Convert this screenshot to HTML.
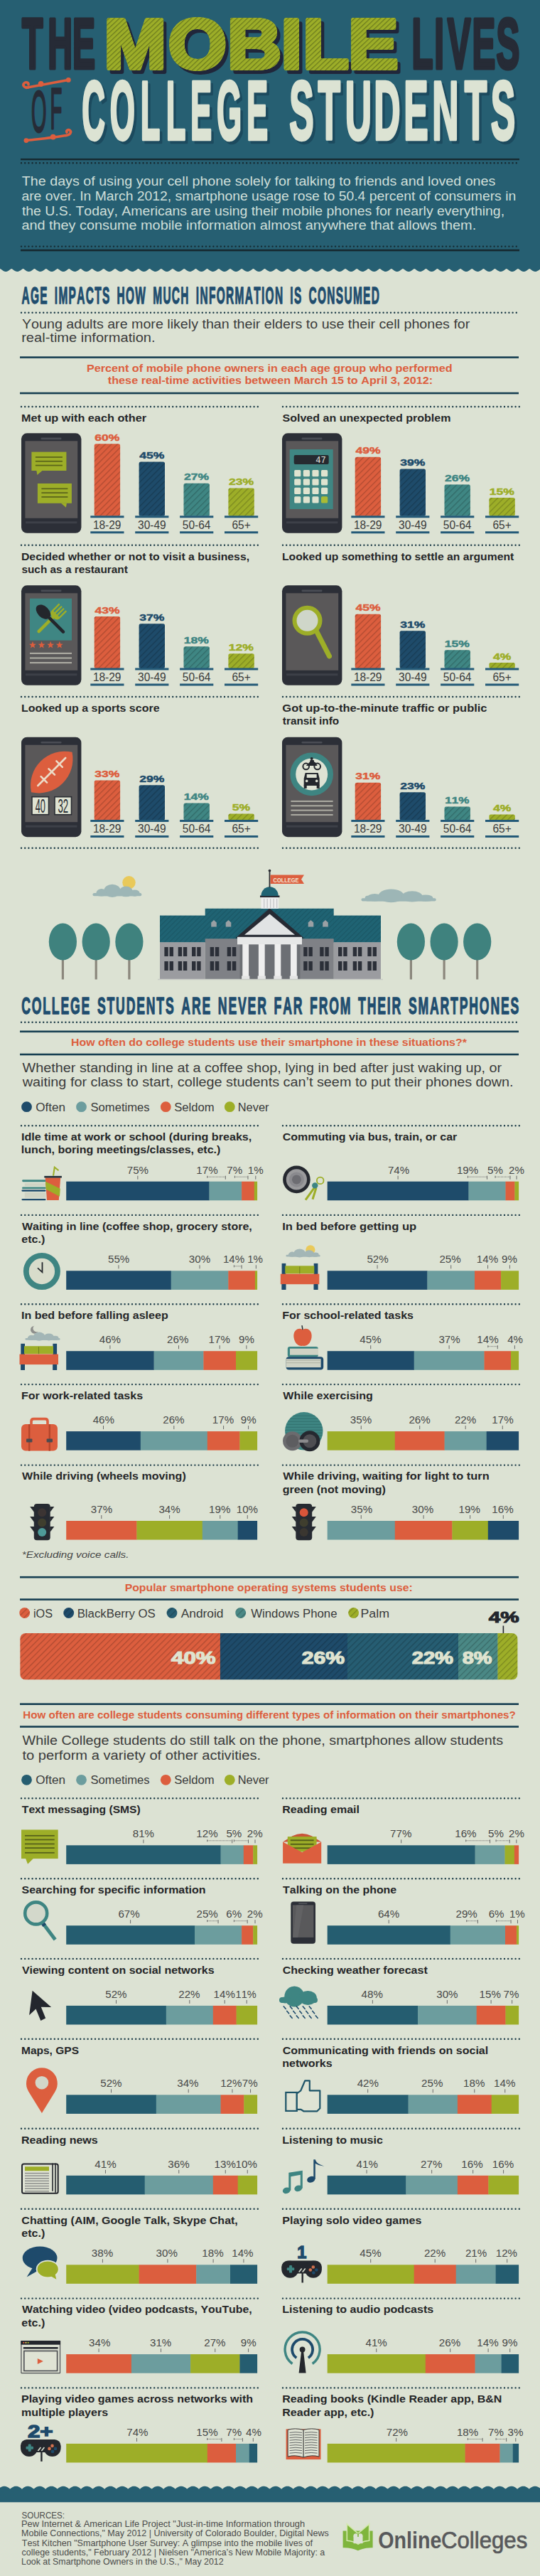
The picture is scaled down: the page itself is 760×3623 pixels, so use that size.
<!DOCTYPE html>
<html lang="en"><head><meta charset="utf-8">
<title>The Mobile Lives of College Students</title>
<style>
html,body{margin:0;padding:0;background:#dce2d3;}
body{width:760px;height:3623px;overflow:hidden;}
svg{display:block;font-family:'Liberation Sans', Arial, sans-serif;font-kerning:none;}
</style></head>
<body>
<svg width="760" height="3623" viewBox="0 0 760 3623">
<defs>
<pattern id="hatch" width="6" height="6" patternUnits="userSpaceOnUse" patternTransform="rotate(45)"><rect x="0" y="0" width="1.2" height="6" fill="rgba(0,0,0,0.22)"/></pattern>
<pattern id="hatchG" width="4.8" height="4.8" patternUnits="userSpaceOnUse" patternTransform="rotate(45)"><rect x="0" y="0" width="4.8" height="4.8" fill="#9dae28"/><rect x="0" y="0" width="1.2" height="4.8" fill="#6b7a1d"/></pattern>
<pattern id="hatchR" width="5" height="5" patternUnits="userSpaceOnUse" patternTransform="rotate(45)"><rect x="0" y="0" width="1.0" height="5" fill="rgba(0,0,0,0.13)"/></pattern>
</defs>
<rect x="0.00" y="0.00" width="760.00" height="3623.00" fill="#dce2d3" />
<rect x="0.00" y="0.00" width="760.00" height="382.00" fill="#265f72" />
<rect x="0.00" y="376.00" width="760.00" height="10.00" fill="#dce2d3" />
<path d="M0,370 L0,377.80 L1,378.38 L2,379.11 L3,379.85 L4,380.54 L5,381.13 L6,381.59 L7,381.89 L8,382.00 L9,381.92 L10,381.66 L11,381.24 L12,380.67 L13,379.99 L14,379.26 L15,378.52 L16,377.89 L17,378.25 L18,378.96 L19,379.70 L20,380.41 L21,381.02 L22,381.51 L23,381.84 L24,381.99 L25,381.95 L26,381.73 L27,381.33 L28,380.79 L29,380.13 L30,379.41 L31,378.67 L32,378.00 L33,378.12 L34,378.81 L35,379.55 L36,380.27 L37,380.91 L38,381.43 L39,381.79 L40,381.98 L41,381.98 L42,381.79 L43,381.43 L44,380.91 L45,380.27 L46,379.55 L47,378.81 L48,378.12 L49,378.00 L50,378.67 L51,379.41 L52,380.13 L53,380.79 L54,381.33 L55,381.73 L56,381.95 L57,381.99 L58,381.84 L59,381.51 L60,381.02 L61,380.41 L62,379.70 L63,378.96 L64,378.25 L65,377.89 L66,378.52 L67,379.26 L68,379.99 L69,380.67 L70,381.24 L71,381.66 L72,381.92 L73,382.00 L74,381.89 L75,381.59 L76,381.13 L77,380.54 L78,379.85 L79,379.11 L80,378.38 L81,377.80 L82,378.38 L83,379.11 L84,379.85 L85,380.54 L86,381.13 L87,381.59 L88,381.89 L89,382.00 L90,381.92 L91,381.66 L92,381.24 L93,380.67 L94,379.99 L95,379.26 L96,378.52 L97,377.89 L98,378.25 L99,378.96 L100,379.70 L101,380.41 L102,381.02 L103,381.51 L104,381.84 L105,381.99 L106,381.95 L107,381.73 L108,381.33 L109,380.79 L110,380.13 L111,379.41 L112,378.67 L113,378.00 L114,378.12 L115,378.81 L116,379.55 L117,380.27 L118,380.91 L119,381.43 L120,381.79 L121,381.98 L122,381.98 L123,381.79 L124,381.43 L125,380.91 L126,380.27 L127,379.55 L128,378.81 L129,378.12 L130,378.00 L131,378.67 L132,379.41 L133,380.13 L134,380.79 L135,381.33 L136,381.73 L137,381.95 L138,381.99 L139,381.84 L140,381.51 L141,381.02 L142,380.41 L143,379.70 L144,378.96 L145,378.25 L146,377.89 L147,378.52 L148,379.26 L149,379.99 L150,380.67 L151,381.24 L152,381.66 L153,381.92 L154,382.00 L155,381.89 L156,381.59 L157,381.13 L158,380.54 L159,379.85 L160,379.11 L161,378.38 L162,377.80 L163,378.38 L164,379.11 L165,379.85 L166,380.54 L167,381.13 L168,381.59 L169,381.89 L170,382.00 L171,381.92 L172,381.66 L173,381.24 L174,380.67 L175,379.99 L176,379.26 L177,378.52 L178,377.89 L179,378.25 L180,378.96 L181,379.70 L182,380.41 L183,381.02 L184,381.51 L185,381.84 L186,381.99 L187,381.95 L188,381.73 L189,381.33 L190,380.79 L191,380.13 L192,379.41 L193,378.67 L194,378.00 L195,378.12 L196,378.81 L197,379.55 L198,380.27 L199,380.91 L200,381.43 L201,381.79 L202,381.98 L203,381.98 L204,381.79 L205,381.43 L206,380.91 L207,380.27 L208,379.55 L209,378.81 L210,378.12 L211,378.00 L212,378.67 L213,379.41 L214,380.13 L215,380.79 L216,381.33 L217,381.73 L218,381.95 L219,381.99 L220,381.84 L221,381.51 L222,381.02 L223,380.41 L224,379.70 L225,378.96 L226,378.25 L227,377.89 L228,378.52 L229,379.26 L230,379.99 L231,380.67 L232,381.24 L233,381.66 L234,381.92 L235,382.00 L236,381.89 L237,381.59 L238,381.13 L239,380.54 L240,379.85 L241,379.11 L242,378.38 L243,377.80 L244,378.38 L245,379.11 L246,379.85 L247,380.54 L248,381.13 L249,381.59 L250,381.89 L251,382.00 L252,381.92 L253,381.66 L254,381.24 L255,380.67 L256,379.99 L257,379.26 L258,378.52 L259,377.89 L260,378.25 L261,378.96 L262,379.70 L263,380.41 L264,381.02 L265,381.51 L266,381.84 L267,381.99 L268,381.95 L269,381.73 L270,381.33 L271,380.79 L272,380.13 L273,379.41 L274,378.67 L275,378.00 L276,378.12 L277,378.81 L278,379.55 L279,380.27 L280,380.91 L281,381.43 L282,381.79 L283,381.98 L284,381.98 L285,381.79 L286,381.43 L287,380.91 L288,380.27 L289,379.55 L290,378.81 L291,378.12 L292,378.00 L293,378.67 L294,379.41 L295,380.13 L296,380.79 L297,381.33 L298,381.73 L299,381.95 L300,381.99 L301,381.84 L302,381.51 L303,381.02 L304,380.41 L305,379.70 L306,378.96 L307,378.25 L308,377.89 L309,378.52 L310,379.26 L311,379.99 L312,380.67 L313,381.24 L314,381.66 L315,381.92 L316,382.00 L317,381.89 L318,381.59 L319,381.13 L320,380.54 L321,379.85 L322,379.11 L323,378.38 L324,377.80 L325,378.38 L326,379.11 L327,379.85 L328,380.54 L329,381.13 L330,381.59 L331,381.89 L332,382.00 L333,381.92 L334,381.66 L335,381.24 L336,380.67 L337,379.99 L338,379.26 L339,378.52 L340,377.89 L341,378.25 L342,378.96 L343,379.70 L344,380.41 L345,381.02 L346,381.51 L347,381.84 L348,381.99 L349,381.95 L350,381.73 L351,381.33 L352,380.79 L353,380.13 L354,379.41 L355,378.67 L356,378.00 L357,378.12 L358,378.81 L359,379.55 L360,380.27 L361,380.91 L362,381.43 L363,381.79 L364,381.98 L365,381.98 L366,381.79 L367,381.43 L368,380.91 L369,380.27 L370,379.55 L371,378.81 L372,378.12 L373,378.00 L374,378.67 L375,379.41 L376,380.13 L377,380.79 L378,381.33 L379,381.73 L380,381.95 L381,381.99 L382,381.84 L383,381.51 L384,381.02 L385,380.41 L386,379.70 L387,378.96 L388,378.25 L389,377.89 L390,378.52 L391,379.26 L392,379.99 L393,380.67 L394,381.24 L395,381.66 L396,381.92 L397,382.00 L398,381.89 L399,381.59 L400,381.13 L401,380.54 L402,379.85 L403,379.11 L404,378.38 L405,377.80 L406,378.38 L407,379.11 L408,379.85 L409,380.54 L410,381.13 L411,381.59 L412,381.89 L413,382.00 L414,381.92 L415,381.66 L416,381.24 L417,380.67 L418,379.99 L419,379.26 L420,378.52 L421,377.89 L422,378.25 L423,378.96 L424,379.70 L425,380.41 L426,381.02 L427,381.51 L428,381.84 L429,381.99 L430,381.95 L431,381.73 L432,381.33 L433,380.79 L434,380.13 L435,379.41 L436,378.67 L437,378.00 L438,378.12 L439,378.81 L440,379.55 L441,380.27 L442,380.91 L443,381.43 L444,381.79 L445,381.98 L446,381.98 L447,381.79 L448,381.43 L449,380.91 L450,380.27 L451,379.55 L452,378.81 L453,378.12 L454,378.00 L455,378.67 L456,379.41 L457,380.13 L458,380.79 L459,381.33 L460,381.73 L461,381.95 L462,381.99 L463,381.84 L464,381.51 L465,381.02 L466,380.41 L467,379.70 L468,378.96 L469,378.25 L470,377.89 L471,378.52 L472,379.26 L473,379.99 L474,380.67 L475,381.24 L476,381.66 L477,381.92 L478,382.00 L479,381.89 L480,381.59 L481,381.13 L482,380.54 L483,379.85 L484,379.11 L485,378.38 L486,377.80 L487,378.38 L488,379.11 L489,379.85 L490,380.54 L491,381.13 L492,381.59 L493,381.89 L494,382.00 L495,381.92 L496,381.66 L497,381.24 L498,380.67 L499,379.99 L500,379.26 L501,378.52 L502,377.89 L503,378.25 L504,378.96 L505,379.70 L506,380.41 L507,381.02 L508,381.51 L509,381.84 L510,381.99 L511,381.95 L512,381.73 L513,381.33 L514,380.79 L515,380.13 L516,379.41 L517,378.67 L518,378.00 L519,378.12 L520,378.81 L521,379.55 L522,380.27 L523,380.91 L524,381.43 L525,381.79 L526,381.98 L527,381.98 L528,381.79 L529,381.43 L530,380.91 L531,380.27 L532,379.55 L533,378.81 L534,378.12 L535,378.00 L536,378.67 L537,379.41 L538,380.13 L539,380.79 L540,381.33 L541,381.73 L542,381.95 L543,381.99 L544,381.84 L545,381.51 L546,381.02 L547,380.41 L548,379.70 L549,378.96 L550,378.25 L551,377.89 L552,378.52 L553,379.26 L554,379.99 L555,380.67 L556,381.24 L557,381.66 L558,381.92 L559,382.00 L560,381.89 L561,381.59 L562,381.13 L563,380.54 L564,379.85 L565,379.11 L566,378.38 L567,377.80 L568,378.38 L569,379.11 L570,379.85 L571,380.54 L572,381.13 L573,381.59 L574,381.89 L575,382.00 L576,381.92 L577,381.66 L578,381.24 L579,380.67 L580,379.99 L581,379.26 L582,378.52 L583,377.89 L584,378.25 L585,378.96 L586,379.70 L587,380.41 L588,381.02 L589,381.51 L590,381.84 L591,381.99 L592,381.95 L593,381.73 L594,381.33 L595,380.79 L596,380.13 L597,379.41 L598,378.67 L599,378.00 L600,378.12 L601,378.81 L602,379.55 L603,380.27 L604,380.91 L605,381.43 L606,381.79 L607,381.98 L608,381.98 L609,381.79 L610,381.43 L611,380.91 L612,380.27 L613,379.55 L614,378.81 L615,378.12 L616,378.00 L617,378.67 L618,379.41 L619,380.13 L620,380.79 L621,381.33 L622,381.73 L623,381.95 L624,381.99 L625,381.84 L626,381.51 L627,381.02 L628,380.41 L629,379.70 L630,378.96 L631,378.25 L632,377.89 L633,378.52 L634,379.26 L635,379.99 L636,380.67 L637,381.24 L638,381.66 L639,381.92 L640,382.00 L641,381.89 L642,381.59 L643,381.13 L644,380.54 L645,379.85 L646,379.11 L647,378.38 L648,377.80 L649,378.38 L650,379.11 L651,379.85 L652,380.54 L653,381.13 L654,381.59 L655,381.89 L656,382.00 L657,381.92 L658,381.66 L659,381.24 L660,380.67 L661,379.99 L662,379.26 L663,378.52 L664,377.89 L665,378.25 L666,378.96 L667,379.70 L668,380.41 L669,381.02 L670,381.51 L671,381.84 L672,381.99 L673,381.95 L674,381.73 L675,381.33 L676,380.79 L677,380.13 L678,379.41 L679,378.67 L680,378.00 L681,378.12 L682,378.81 L683,379.55 L684,380.27 L685,380.91 L686,381.43 L687,381.79 L688,381.98 L689,381.98 L690,381.79 L691,381.43 L692,380.91 L693,380.27 L694,379.55 L695,378.81 L696,378.12 L697,378.00 L698,378.67 L699,379.41 L700,380.13 L701,380.79 L702,381.33 L703,381.73 L704,381.95 L705,381.99 L706,381.84 L707,381.51 L708,381.02 L709,380.41 L710,379.70 L711,378.96 L712,378.25 L713,377.89 L714,378.52 L715,379.26 L716,379.99 L717,380.67 L718,381.24 L719,381.66 L720,381.92 L721,382.00 L722,381.89 L723,381.59 L724,381.13 L725,380.54 L726,379.85 L727,379.11 L728,378.38 L729,377.80 L730,378.38 L731,379.11 L732,379.85 L733,380.54 L734,381.13 L735,381.59 L736,381.89 L737,382.00 L738,381.92 L739,381.66 L740,381.24 L741,380.67 L742,379.99 L743,379.26 L744,378.52 L745,377.89 L746,378.25 L747,378.96 L748,379.70 L749,380.41 L750,381.02 L751,381.51 L752,381.84 L753,381.99 L754,381.95 L755,381.73 L756,381.33 L757,380.79 L758,380.13 L759,379.41 L760,378.67 L760,370 Z" fill="#265f72"/>
<text transform="scale(0.4810,1)" x="64.31 139.58 211.84" y="96.40 96.40 96.40" font-size="100" fill="#262b36" font-weight="bold" stroke="#262b36" stroke-width="4" stroke-linejoin="round" vector-effect="non-scaling-stroke" >THE</text>
<text transform="scale(0.4914,1)" x="1179.14 1243.73 1281.52 1352.36 1421.46" y="96.40 96.40 96.40 96.40 96.40" font-size="100" fill="#262b36" font-weight="bold" stroke="#262b36" stroke-width="4" stroke-linejoin="round" vector-effect="non-scaling-stroke" >LIVES</text>
<text transform="scale(1.0611,1)" x="142.12 227.59 305.71 377.17 406.16 466.13" y="100.80 100.80 100.80 100.80 100.80 100.80" font-size="99" fill="#20263a" font-weight="bold" stroke="#20263a" stroke-width="6" stroke-linejoin="round" vector-effect="non-scaling-stroke" >MOBILE</text>
<text transform="scale(1.0611,1)" x="137.98 223.45 301.56 373.02 402.02 461.98" y="96.40 96.40 96.40 96.40 96.40 96.40" font-size="99" fill="#9dae28" font-weight="bold" stroke="#9dae28" stroke-width="6" stroke-linejoin="round" vector-effect="non-scaling-stroke" >MOBILE</text>
<text transform="scale(1.0611,1)" x="137.98 223.45 301.56 373.02 402.02 461.98" y="96.40 96.40 96.40 96.40 96.40 96.40" font-size="99" fill="url(#hatchG)" font-weight="bold" stroke="url(#hatchG)" stroke-width="6" stroke-linejoin="round" vector-effect="non-scaling-stroke" >MOBILE</text>
<text transform="scale(0.3404,1)" x="129.14 207.19" y="184.60 180.90" font-size="81" fill="#262b36" stroke="#262b36" stroke-width="2.2" stroke-linejoin="round" vector-effect="non-scaling-stroke" >OF</text>
<g fill="none" stroke="#dc5e3e" stroke-width="3.6" stroke-linecap="round"><path d="M37,123.5 C50,121 70,117 96,112.4"/><path d="M39.5,123 C33.5,124 31.5,119.5 34,117 C36.5,114.5 40.5,116 40,119"/><path d="M37,197.6 C55,195.5 75,193.5 93,190.5"/><path d="M93,190.5 C99,190 101,185.5 98.5,183.5 C96,181.5 92.5,183.5 94,186"/></g>
<g fill="#dc5e3e"><circle cx="57.6" cy="118" r="3.9"/><circle cx="96.3" cy="112.4" r="3.4"/><circle cx="74.7" cy="192.6" r="3.9"/><circle cx="36.9" cy="197.6" r="3.4"/></g>
<text transform="scale(0.3900,1)" x="304.29 405.56 516.18 608.23 696.23 790.83 898.92" y="200.00 200.00 200.00 200.00 200.00 200.00 200.00" font-size="116" fill="#1c4a5e" font-weight="bold" stroke="#1c4a5e" stroke-width="3.4" stroke-linejoin="round" vector-effect="non-scaling-stroke" >COLLEGE</text>
<text transform="scale(0.4450,1)" x="923.18 1013.72 1099.70 1190.61 1284.97 1374.87 1476.87 1560.15" y="200.00 200.00 200.00 200.00 200.00 200.00 200.00 200.00" font-size="116" fill="#1c4a5e" font-weight="bold" stroke="#1c4a5e" stroke-width="3.4" stroke-linejoin="round" vector-effect="non-scaling-stroke" >STUDENTS</text>
<text transform="scale(0.3900,1)" x="295.32 396.59 507.21 599.26 687.25 781.85 889.95" y="196.20 196.20 196.20 196.20 196.20 196.20 196.20" font-size="116" fill="#dce3d3" font-weight="bold" stroke="#dce3d3" stroke-width="3.4" stroke-linejoin="round" vector-effect="non-scaling-stroke" >COLLEGE</text>
<text transform="scale(0.4450,1)" x="915.32 1005.86 1091.84 1182.75 1277.11 1367.00 1469.00 1552.28" y="196.20 196.20 196.20 196.20 196.20 196.20 196.20 196.20" font-size="116" fill="#dce3d3" font-weight="bold" stroke="#dce3d3" stroke-width="3.4" stroke-linejoin="round" vector-effect="non-scaling-stroke" >STUDENTS</text>
<rect x="29.00" y="222.95" width="702.00" height="2.30" fill="#16282f" />
<line x1="30" y1="229.2" x2="731" y2="229.2" stroke="#16282f" stroke-width="2.4" stroke-linecap="round" stroke-dasharray="0 5.2"/>
<line x1="30" y1="346.6" x2="731" y2="346.6" stroke="#16282f" stroke-width="2.4" stroke-linecap="round" stroke-dasharray="0 5.2"/>
<rect x="29.00" y="350.70" width="702.00" height="2.60" fill="#16282f" />
<text x="30.81" y="260.90" font-size="17.6" fill="#d0dfd9" textLength="666.57" lengthAdjust="spacingAndGlyphs"  >The days of using your cell phone solely for talking to friends and loved ones</text>
<text x="30.42" y="281.75" font-size="17.6" fill="#d0dfd9" textLength="695.83" lengthAdjust="spacingAndGlyphs"  >are over. In March 2012, smartphone usage rose to 50.4 percent of consumers in</text>
<text x="30.91" y="302.60" font-size="17.6" fill="#d0dfd9" textLength="679.14" lengthAdjust="spacingAndGlyphs"  >the U.S. Today, Americans are using their mobile phones for nearly everything,</text>
<text x="30.41" y="323.45" font-size="17.6" fill="#d0dfd9" textLength="639.76" lengthAdjust="spacingAndGlyphs"  >and they consume mobile information almost anywhere that allows them.</text>
<text x="30.41" y="426.60" font-size="34" fill="#1f4d6e" font-weight="bold" textLength="504.82" lengthAdjust="spacingAndGlyphs"  letter-spacing="3.000" word-spacing="7.294"  stroke="#1f4d6e" stroke-width="1.3" stroke-linejoin="round" >AGE IMPACTS HOW MUCH INFORMATION IS CONSUMED</text>
<line x1="30" y1="439.8" x2="731" y2="439.8" stroke="#1d3c48" stroke-width="2.4" stroke-linecap="round" stroke-dasharray="0 5.2"/>
<text x="31.01" y="462.40" font-size="17.6" fill="#3a3b3b" textLength="630.33" lengthAdjust="spacingAndGlyphs"  >Young adults are more likely than their elders to use their cell phones for</text>
<text x="30.20" y="481.20" font-size="17.6" fill="#3a3b3b" textLength="188.36" lengthAdjust="spacingAndGlyphs"  >real-time information.</text>
<rect x="28.00" y="501.30" width="702.00" height="2.60" fill="#173f52" />
<text x="121.95" y="523.30" font-size="15.2" fill="#dc5e3e" font-weight="bold" textLength="514.75" lengthAdjust="spacingAndGlyphs"  >Percent of mobile phone owners in each age group who performed</text>
<text x="151.84" y="540.40" font-size="15.2" fill="#dc5e3e" font-weight="bold" textLength="457.23" lengthAdjust="spacingAndGlyphs"  >these real-time activities between March 15 to April 3, 2012:</text>
<rect x="28.00" y="551.70" width="702.00" height="2.60" fill="#173f52" />
<line x1="30" y1="572.0" x2="364" y2="572.0" stroke="#1d3c48" stroke-width="2.4" stroke-linecap="round" stroke-dasharray="0 5.2"/>
<line x1="398" y1="572.0" x2="731" y2="572.0" stroke="#1d3c48" stroke-width="2.4" stroke-linecap="round" stroke-dasharray="0 5.2"/>
<text x="29.94" y="593.00" font-size="15.2" fill="#252628" font-weight="bold" textLength="176.09" lengthAdjust="spacingAndGlyphs"  >Met up with each other</text>
<rect x="30.00" y="609.30" width="84.40" height="140.50" fill="#2c2f37" rx="8" />
<rect x="35.40" y="620.30" width="73.80" height="108.50" fill="#5a5859" />
<rect x="57.50" y="615.60" width="29.00" height="2.60" fill="#4a4d55" rx="1.3" />
<rect x="36.00" y="733.30" width="72.40" height="3.00" fill="#3d4048" />
<rect x="44.40" y="635.60" width="49.00" height="26.40" fill="#9dae28" />
<path d="M51.4,661.9999999999999 L52.4,667.9999999999999 L59.4,661.9999999999999 Z" fill="#9dae28"/>
<rect x="49.90" y="642.10" width="38.00" height="1.70" fill="#59631a" />
<rect x="49.90" y="647.90" width="38.00" height="1.70" fill="#59631a" />
<rect x="49.90" y="653.70" width="38.00" height="1.70" fill="#59631a" />
<rect x="52.90" y="680.00" width="48.00" height="27.80" fill="#9dae28" />
<path d="M85.9,707.8 L92.9,713.8 L93.9,707.8 Z" fill="#9dae28"/>
<rect x="58.40" y="686.50" width="37.00" height="1.70" fill="#59631a" />
<rect x="58.40" y="692.30" width="37.00" height="1.70" fill="#59631a" />
<rect x="58.40" y="698.10" width="37.00" height="1.70" fill="#59631a" />
<rect x="132.70" y="624.20" width="36.40" height="101.60" fill="#dc5e3e" rx="2.5" />
<rect x="132.70" y="624.20" width="36.40" height="101.60" fill="url(#hatch)" rx="2.5" />
<text x="133.29" y="619.80" font-size="13.5" fill="#dc5e3e" font-weight="bold" textLength="35.08" lengthAdjust="spacingAndGlyphs"  stroke="#dc5e3e" stroke-width="0.5">60%</text>
<rect x="127.30" y="725.30" width="47.20" height="3.00" fill="#245a78" />
<rect x="127.30" y="747.30" width="47.20" height="3.00" fill="#245a78" />
<text x="130.89" y="743.60" font-size="16.5" fill="#3a3b3b" textLength="39.60" lengthAdjust="spacingAndGlyphs"  >18-29</text>
<rect x="195.60" y="649.47" width="36.40" height="76.33" fill="#1e4b6a" rx="2.5" />
<rect x="195.60" y="649.47" width="36.40" height="76.33" fill="url(#hatch)" rx="2.5" />
<text x="196.36" y="645.07" font-size="13.5" fill="#1e4b6a" font-weight="bold" textLength="35.08" lengthAdjust="spacingAndGlyphs"  stroke="#1e4b6a" stroke-width="0.5">45%</text>
<rect x="190.20" y="725.30" width="47.20" height="3.00" fill="#245a78" />
<rect x="190.20" y="747.30" width="47.20" height="3.00" fill="#245a78" />
<text x="194.06" y="743.60" font-size="16.5" fill="#3a3b3b" textLength="39.60" lengthAdjust="spacingAndGlyphs"  >30-49</text>
<rect x="258.50" y="679.80" width="36.40" height="46.00" fill="#3f8683" rx="2.5" />
<rect x="258.50" y="679.80" width="36.40" height="46.00" fill="url(#hatch)" rx="2.5" />
<text x="259.09" y="675.40" font-size="13.5" fill="#3f8683" font-weight="bold" textLength="35.08" lengthAdjust="spacingAndGlyphs"  stroke="#3f8683" stroke-width="0.5">27%</text>
<rect x="253.10" y="725.30" width="47.20" height="3.00" fill="#245a78" />
<rect x="253.10" y="747.30" width="47.20" height="3.00" fill="#245a78" />
<text x="256.84" y="743.60" font-size="16.5" fill="#3a3b3b" textLength="39.60" lengthAdjust="spacingAndGlyphs"  >50-64</text>
<rect x="321.40" y="686.54" width="36.40" height="39.26" fill="#9dae28" rx="2.5" />
<rect x="321.40" y="686.54" width="36.40" height="39.26" fill="url(#hatch)" rx="2.5" />
<text x="321.99" y="682.14" font-size="13.5" fill="#9dae28" font-weight="bold" textLength="35.08" lengthAdjust="spacingAndGlyphs"  stroke="#9dae28" stroke-width="0.5">23%</text>
<rect x="316.00" y="725.30" width="47.20" height="3.00" fill="#245a78" />
<rect x="316.00" y="747.30" width="47.20" height="3.00" fill="#245a78" />
<text x="326.48" y="743.60" font-size="16.5" fill="#3a3b3b" textLength="26.26" lengthAdjust="spacingAndGlyphs"  >65+</text>
<text x="397.52" y="593.00" font-size="15.2" fill="#252628" font-weight="bold" textLength="236.97" lengthAdjust="spacingAndGlyphs"  >Solved an unexpected problem</text>
<rect x="397.00" y="609.30" width="84.40" height="140.50" fill="#2c2f37" rx="8" />
<rect x="402.40" y="620.30" width="73.80" height="108.50" fill="#5a5859" />
<rect x="424.50" y="615.60" width="29.00" height="2.60" fill="#4a4d55" rx="1.3" />
<rect x="403.00" y="733.30" width="72.40" height="3.00" fill="#3d4048" />
<rect x="407.70" y="632.00" width="61.00" height="84.00" fill="#3f8683" />
<rect x="413.70" y="640.00" width="49.00" height="13.00" fill="#262a30" rx="2" />
<text x="458.70" y="651.00" font-size="12" fill="#e6e6e0" text-anchor="end" font-family="Liberation Mono, monospace">47</text>
<rect x="414.20" y="661.00" width="9.20" height="9.20" fill="#dfe3cf" rx="1.5" />
<rect x="426.80" y="661.00" width="9.20" height="9.20" fill="#dfe3cf" rx="1.5" />
<rect x="439.40" y="661.00" width="9.20" height="9.20" fill="#dfe3cf" rx="1.5" />
<rect x="452.00" y="661.00" width="9.20" height="9.20" fill="#dfe3cf" rx="1.5" />
<rect x="414.20" y="673.40" width="9.20" height="9.20" fill="#dfe3cf" rx="1.5" />
<rect x="426.80" y="673.40" width="9.20" height="9.20" fill="#dfe3cf" rx="1.5" />
<rect x="439.40" y="673.40" width="9.20" height="9.20" fill="#dfe3cf" rx="1.5" />
<rect x="452.00" y="673.40" width="9.20" height="9.20" fill="#dfe3cf" rx="1.5" />
<rect x="414.20" y="685.80" width="9.20" height="9.20" fill="#dfe3cf" rx="1.5" />
<rect x="426.80" y="685.80" width="9.20" height="9.20" fill="#dfe3cf" rx="1.5" />
<rect x="439.40" y="685.80" width="9.20" height="9.20" fill="#dfe3cf" rx="1.5" />
<rect x="452.00" y="685.80" width="9.20" height="9.20" fill="#dfe3cf" rx="1.5" />
<rect x="414.20" y="698.20" width="9.20" height="9.20" fill="#dfe3cf" rx="1.5" />
<rect x="426.80" y="698.20" width="9.20" height="9.20" fill="#dfe3cf" rx="1.5" />
<rect x="439.40" y="698.20" width="9.20" height="9.20" fill="#dfe3cf" rx="1.5" />
<rect x="452.00" y="698.20" width="9.20" height="9.20" fill="#a9bb35" rx="1.5" />
<rect x="499.70" y="642.73" width="36.40" height="83.06" fill="#dc5e3e" rx="2.5" />
<rect x="499.70" y="642.73" width="36.40" height="83.06" fill="url(#hatch)" rx="2.5" />
<text x="500.46" y="638.33" font-size="13.5" fill="#dc5e3e" font-weight="bold" textLength="35.08" lengthAdjust="spacingAndGlyphs"  stroke="#dc5e3e" stroke-width="0.5">49%</text>
<rect x="494.30" y="725.30" width="47.20" height="3.00" fill="#245a78" />
<rect x="494.30" y="747.30" width="47.20" height="3.00" fill="#245a78" />
<text x="497.89" y="743.60" font-size="16.5" fill="#3a3b3b" textLength="39.60" lengthAdjust="spacingAndGlyphs"  >18-29</text>
<rect x="562.60" y="659.58" width="36.40" height="66.22" fill="#1e4b6a" rx="2.5" />
<rect x="562.60" y="659.58" width="36.40" height="66.22" fill="url(#hatch)" rx="2.5" />
<text x="563.27" y="655.18" font-size="13.5" fill="#1e4b6a" font-weight="bold" textLength="35.08" lengthAdjust="spacingAndGlyphs"  stroke="#1e4b6a" stroke-width="0.5">39%</text>
<rect x="557.20" y="725.30" width="47.20" height="3.00" fill="#245a78" />
<rect x="557.20" y="747.30" width="47.20" height="3.00" fill="#245a78" />
<text x="561.06" y="743.60" font-size="16.5" fill="#3a3b3b" textLength="39.60" lengthAdjust="spacingAndGlyphs"  >30-49</text>
<rect x="625.50" y="681.49" width="36.40" height="44.31" fill="#3f8683" rx="2.5" />
<rect x="625.50" y="681.49" width="36.40" height="44.31" fill="url(#hatch)" rx="2.5" />
<text x="626.09" y="677.09" font-size="13.5" fill="#3f8683" font-weight="bold" textLength="35.08" lengthAdjust="spacingAndGlyphs"  stroke="#3f8683" stroke-width="0.5">26%</text>
<rect x="620.10" y="725.30" width="47.20" height="3.00" fill="#245a78" />
<rect x="620.10" y="747.30" width="47.20" height="3.00" fill="#245a78" />
<text x="623.84" y="743.60" font-size="16.5" fill="#3a3b3b" textLength="39.60" lengthAdjust="spacingAndGlyphs"  >50-64</text>
<rect x="688.40" y="700.02" width="36.40" height="25.78" fill="#9dae28" rx="2.5" />
<rect x="688.40" y="700.02" width="36.40" height="25.78" fill="url(#hatch)" rx="2.5" />
<text x="688.77" y="695.62" font-size="13.5" fill="#9dae28" font-weight="bold" textLength="35.08" lengthAdjust="spacingAndGlyphs"  stroke="#9dae28" stroke-width="0.5">15%</text>
<rect x="683.00" y="725.30" width="47.20" height="3.00" fill="#245a78" />
<rect x="683.00" y="747.30" width="47.20" height="3.00" fill="#245a78" />
<text x="693.48" y="743.60" font-size="16.5" fill="#3a3b3b" textLength="26.26" lengthAdjust="spacingAndGlyphs"  >65+</text>
<line x1="30" y1="766.7" x2="364" y2="766.7" stroke="#1d3c48" stroke-width="2.4" stroke-linecap="round" stroke-dasharray="0 5.2"/>
<line x1="398" y1="766.7" x2="731" y2="766.7" stroke="#1d3c48" stroke-width="2.4" stroke-linecap="round" stroke-dasharray="0 5.2"/>
<text x="29.97" y="787.70" font-size="15.2" fill="#252628" font-weight="bold" textLength="321.10" lengthAdjust="spacingAndGlyphs"  >Decided whether or not to visit a business,</text>
<text x="30.46" y="805.90" font-size="15.2" fill="#252628" font-weight="bold" textLength="149.32" lengthAdjust="spacingAndGlyphs"  >such as a restaurant</text>
<rect x="30.00" y="823.30" width="84.40" height="140.50" fill="#2c2f37" rx="8" />
<rect x="35.40" y="834.30" width="73.80" height="108.50" fill="#5a5859" />
<rect x="57.50" y="829.60" width="29.00" height="2.60" fill="#4a4d55" rx="1.3" />
<rect x="36.00" y="947.30" width="72.40" height="3.00" fill="#3d4048" />
<rect x="42.00" y="841.70" width="59.00" height="59.00" fill="#3f8683" />
<g transform="translate(71.5,871.1999999999999) rotate(45)"><rect x="-2.2" y="-6" width="4.4" height="32" rx="2" fill="#9dae28"/><path d="M-8,-24 L-8,-10 Q-8,-4 0,-4 Q8,-4 8,-10 L8,-24 L5.6,-24 L5.6,-11 L3.3,-11 L3.3,-24 L1,-24 L1,-11 L-1,-11 L-1,-24 L-3.3,-24 L-3.3,-11 L-5.6,-11 L-5.6,-24 Z" fill="#9dae28"/></g>
<g transform="translate(71.5,871.1999999999999) rotate(-45)"><rect x="-2.3" y="-4" width="4.6" height="31" rx="2.3" fill="#23262c"/><ellipse cx="0" cy="-15" rx="8" ry="12" fill="#23262c"/></g>
<polygon points="46.0,902.1 47.3,905.5 50.9,905.7 48.1,908.0 49.1,911.5 46.0,909.5 42.9,911.5 43.9,908.0 41.1,905.7 44.7,905.5" fill="#dc5e3e"/>
<polygon points="58.6,902.1 59.9,905.5 63.5,905.7 60.7,908.0 61.7,911.5 58.6,909.5 55.5,911.5 56.5,908.0 53.7,905.7 57.3,905.5" fill="#dc5e3e"/>
<polygon points="71.2,902.1 72.5,905.5 76.1,905.7 73.3,908.0 74.3,911.5 71.2,909.5 68.1,911.5 69.1,908.0 66.3,905.7 69.9,905.5" fill="#dc5e3e"/>
<polygon points="83.8,902.1 85.1,905.5 88.7,905.7 85.9,908.0 86.9,911.5 83.8,909.5 80.7,911.5 81.7,908.0 78.9,905.7 82.5,905.5" fill="#dc5e3e"/>
<rect x="42.00" y="917.80" width="59.00" height="2.20" fill="#aaa9a0" />
<rect x="42.00" y="924.40" width="59.00" height="2.20" fill="#aaa9a0" />
<rect x="42.00" y="931.00" width="59.00" height="2.20" fill="#aaa9a0" />
<rect x="132.70" y="867.04" width="36.40" height="72.95" fill="#dc5e3e" rx="2.5" />
<rect x="132.70" y="867.04" width="36.40" height="72.95" fill="url(#hatch)" rx="2.5" />
<text x="133.46" y="862.64" font-size="13.5" fill="#dc5e3e" font-weight="bold" textLength="35.08" lengthAdjust="spacingAndGlyphs"  stroke="#dc5e3e" stroke-width="0.5">43%</text>
<rect x="127.30" y="939.50" width="47.20" height="3.00" fill="#245a78" />
<rect x="127.30" y="961.50" width="47.20" height="3.00" fill="#245a78" />
<text x="130.89" y="957.80" font-size="16.5" fill="#3a3b3b" textLength="39.60" lengthAdjust="spacingAndGlyphs"  >18-29</text>
<rect x="195.60" y="877.15" width="36.40" height="62.84" fill="#1e4b6a" rx="2.5" />
<rect x="195.60" y="877.15" width="36.40" height="62.84" fill="url(#hatch)" rx="2.5" />
<text x="196.27" y="872.75" font-size="13.5" fill="#1e4b6a" font-weight="bold" textLength="35.08" lengthAdjust="spacingAndGlyphs"  stroke="#1e4b6a" stroke-width="0.5">37%</text>
<rect x="190.20" y="939.50" width="47.20" height="3.00" fill="#245a78" />
<rect x="190.20" y="961.50" width="47.20" height="3.00" fill="#245a78" />
<text x="194.06" y="957.80" font-size="16.5" fill="#3a3b3b" textLength="39.60" lengthAdjust="spacingAndGlyphs"  >30-49</text>
<rect x="258.50" y="909.17" width="36.40" height="30.83" fill="#3f8683" rx="2.5" />
<rect x="258.50" y="909.17" width="36.40" height="30.83" fill="url(#hatch)" rx="2.5" />
<text x="258.87" y="904.77" font-size="13.5" fill="#3f8683" font-weight="bold" textLength="35.08" lengthAdjust="spacingAndGlyphs"  stroke="#3f8683" stroke-width="0.5">18%</text>
<rect x="253.10" y="939.50" width="47.20" height="3.00" fill="#245a78" />
<rect x="253.10" y="961.50" width="47.20" height="3.00" fill="#245a78" />
<text x="256.84" y="957.80" font-size="16.5" fill="#3a3b3b" textLength="39.60" lengthAdjust="spacingAndGlyphs"  >50-64</text>
<rect x="321.40" y="919.28" width="36.40" height="20.72" fill="#9dae28" rx="2.5" />
<rect x="321.40" y="919.28" width="36.40" height="20.72" fill="url(#hatch)" rx="2.5" />
<text x="321.77" y="914.88" font-size="13.5" fill="#9dae28" font-weight="bold" textLength="35.08" lengthAdjust="spacingAndGlyphs"  stroke="#9dae28" stroke-width="0.5">12%</text>
<rect x="316.00" y="939.50" width="47.20" height="3.00" fill="#245a78" />
<rect x="316.00" y="961.50" width="47.20" height="3.00" fill="#245a78" />
<text x="326.48" y="957.80" font-size="16.5" fill="#3a3b3b" textLength="26.26" lengthAdjust="spacingAndGlyphs"  >65+</text>
<text x="396.98" y="787.70" font-size="15.2" fill="#252628" font-weight="bold" textLength="326.25" lengthAdjust="spacingAndGlyphs"  >Looked up something to settle an argument</text>
<rect x="397.00" y="823.30" width="84.40" height="140.50" fill="#2c2f37" rx="8" />
<rect x="402.40" y="834.30" width="73.80" height="108.50" fill="#5a5859" />
<rect x="424.50" y="829.60" width="29.00" height="2.60" fill="#4a4d55" rx="1.3" />
<rect x="403.00" y="947.30" width="72.40" height="3.00" fill="#3d4048" />
<line x1="445.5" y1="887.8" x2="463.5" y2="922.8" stroke="#9dae28" stroke-width="7" stroke-linecap="round"/>
<circle cx="432.5" cy="872.8" r="18" fill="#cfd6c9" stroke="#9dae28" stroke-width="6"/>
<rect x="499.70" y="863.67" width="36.40" height="76.33" fill="#dc5e3e" rx="2.5" />
<rect x="499.70" y="863.67" width="36.40" height="76.33" fill="url(#hatch)" rx="2.5" />
<text x="500.46" y="859.27" font-size="13.5" fill="#dc5e3e" font-weight="bold" textLength="35.08" lengthAdjust="spacingAndGlyphs"  stroke="#dc5e3e" stroke-width="0.5">45%</text>
<rect x="494.30" y="939.50" width="47.20" height="3.00" fill="#245a78" />
<rect x="494.30" y="961.50" width="47.20" height="3.00" fill="#245a78" />
<text x="497.89" y="957.80" font-size="16.5" fill="#3a3b3b" textLength="39.60" lengthAdjust="spacingAndGlyphs"  >18-29</text>
<rect x="562.60" y="887.26" width="36.40" height="52.73" fill="#1e4b6a" rx="2.5" />
<rect x="562.60" y="887.26" width="36.40" height="52.73" fill="url(#hatch)" rx="2.5" />
<text x="563.27" y="882.87" font-size="13.5" fill="#1e4b6a" font-weight="bold" textLength="35.08" lengthAdjust="spacingAndGlyphs"  stroke="#1e4b6a" stroke-width="0.5">31%</text>
<rect x="557.20" y="939.50" width="47.20" height="3.00" fill="#245a78" />
<rect x="557.20" y="961.50" width="47.20" height="3.00" fill="#245a78" />
<text x="561.06" y="957.80" font-size="16.5" fill="#3a3b3b" textLength="39.60" lengthAdjust="spacingAndGlyphs"  >30-49</text>
<rect x="625.50" y="914.23" width="36.40" height="25.78" fill="#3f8683" rx="2.5" />
<rect x="625.50" y="914.23" width="36.40" height="25.78" fill="url(#hatch)" rx="2.5" />
<text x="625.87" y="909.83" font-size="13.5" fill="#3f8683" font-weight="bold" textLength="35.08" lengthAdjust="spacingAndGlyphs"  stroke="#3f8683" stroke-width="0.5">15%</text>
<rect x="620.10" y="939.50" width="47.20" height="3.00" fill="#245a78" />
<rect x="620.10" y="961.50" width="47.20" height="3.00" fill="#245a78" />
<text x="623.84" y="957.80" font-size="16.5" fill="#3a3b3b" textLength="39.60" lengthAdjust="spacingAndGlyphs"  >50-64</text>
<rect x="688.40" y="932.00" width="36.40" height="8.00" fill="#9dae28" rx="2.5" />
<rect x="688.40" y="932.00" width="36.40" height="8.00" fill="url(#hatch)" rx="2.5" />
<text x="694.03" y="927.60" font-size="13.5" fill="#9dae28" font-weight="bold" textLength="25.33" lengthAdjust="spacingAndGlyphs"  stroke="#9dae28" stroke-width="0.5">4%</text>
<rect x="683.00" y="939.50" width="47.20" height="3.00" fill="#245a78" />
<rect x="683.00" y="961.50" width="47.20" height="3.00" fill="#245a78" />
<text x="693.48" y="957.80" font-size="16.5" fill="#3a3b3b" textLength="26.26" lengthAdjust="spacingAndGlyphs"  >65+</text>
<line x1="30" y1="980.0" x2="364" y2="980.0" stroke="#1d3c48" stroke-width="2.4" stroke-linecap="round" stroke-dasharray="0 5.2"/>
<line x1="398" y1="980.0" x2="731" y2="980.0" stroke="#1d3c48" stroke-width="2.4" stroke-linecap="round" stroke-dasharray="0 5.2"/>
<text x="29.96" y="1001.00" font-size="15.2" fill="#252628" font-weight="bold" textLength="194.59" lengthAdjust="spacingAndGlyphs"  >Looked up a sports score</text>
<rect x="30.00" y="1036.70" width="84.40" height="140.50" fill="#2c2f37" rx="8" />
<rect x="35.40" y="1047.70" width="73.80" height="108.50" fill="#5a5859" />
<rect x="57.50" y="1043.00" width="29.00" height="2.60" fill="#4a4d55" rx="1.3" />
<rect x="36.00" y="1160.70" width="72.40" height="3.00" fill="#3d4048" />
<path d="M44,1114.3 A48,48 0 0 1 101.5,1057.8 A48,48 0 0 1 44,1114.3 Z" fill="#dc5e3e"/>
<line x1="53.3" y1="1105.0" x2="92.2" y2="1066.0" stroke="#ecdcc8" stroke-width="2.6" stroke-linecap="round"/>
<line x1="57.7" y1="1092.2" x2="66.1" y2="1100.6" stroke="#ecdcc8" stroke-width="2.6" stroke-linecap="round"/>
<line x1="68.5" y1="1081.3" x2="77.0" y2="1089.7" stroke="#ecdcc8" stroke-width="2.6" stroke-linecap="round"/>
<line x1="79.4" y1="1070.4" x2="87.8" y2="1078.8" stroke="#ecdcc8" stroke-width="2.6" stroke-linecap="round"/>
<rect x="45.00" y="1120.70" width="23.50" height="25.00" fill="#dfe3d2" stroke="#2a2d33" stroke-width="1.6"/>
<text x="49.74" y="1143.00" font-size="27" fill="#2a2d33" textLength="14.23" lengthAdjust="spacingAndGlyphs"  >40</text>
<rect x="77.00" y="1120.70" width="23.50" height="25.00" fill="#dfe3d2" stroke="#2a2d33" stroke-width="1.6"/>
<text x="81.47" y="1143.00" font-size="27" fill="#2a2d33" textLength="14.72" lengthAdjust="spacingAndGlyphs"  >32</text>
<rect x="132.70" y="1097.39" width="36.40" height="56.11" fill="#dc5e3e" rx="2.5" />
<rect x="132.70" y="1097.39" width="36.40" height="56.11" fill="url(#hatch)" rx="2.5" />
<text x="133.37" y="1092.99" font-size="13.5" fill="#dc5e3e" font-weight="bold" textLength="35.08" lengthAdjust="spacingAndGlyphs"  stroke="#dc5e3e" stroke-width="0.5">33%</text>
<rect x="127.30" y="1153.00" width="47.20" height="3.00" fill="#245a78" />
<rect x="127.30" y="1175.00" width="47.20" height="3.00" fill="#245a78" />
<text x="130.89" y="1171.30" font-size="16.5" fill="#3a3b3b" textLength="39.60" lengthAdjust="spacingAndGlyphs"  >18-29</text>
<rect x="195.60" y="1104.13" width="36.40" height="49.37" fill="#1e4b6a" rx="2.5" />
<rect x="195.60" y="1104.13" width="36.40" height="49.37" fill="url(#hatch)" rx="2.5" />
<text x="196.19" y="1099.73" font-size="13.5" fill="#1e4b6a" font-weight="bold" textLength="35.08" lengthAdjust="spacingAndGlyphs"  stroke="#1e4b6a" stroke-width="0.5">29%</text>
<rect x="190.20" y="1153.00" width="47.20" height="3.00" fill="#245a78" />
<rect x="190.20" y="1175.00" width="47.20" height="3.00" fill="#245a78" />
<text x="194.06" y="1171.30" font-size="16.5" fill="#3a3b3b" textLength="39.60" lengthAdjust="spacingAndGlyphs"  >30-49</text>
<rect x="258.50" y="1129.41" width="36.40" height="24.09" fill="#3f8683" rx="2.5" />
<rect x="258.50" y="1129.41" width="36.40" height="24.09" fill="url(#hatch)" rx="2.5" />
<text x="258.87" y="1125.01" font-size="13.5" fill="#3f8683" font-weight="bold" textLength="35.08" lengthAdjust="spacingAndGlyphs"  stroke="#3f8683" stroke-width="0.5">14%</text>
<rect x="253.10" y="1153.00" width="47.20" height="3.00" fill="#245a78" />
<rect x="253.10" y="1175.00" width="47.20" height="3.00" fill="#245a78" />
<text x="256.84" y="1171.30" font-size="16.5" fill="#3a3b3b" textLength="39.60" lengthAdjust="spacingAndGlyphs"  >50-64</text>
<rect x="321.40" y="1144.58" width="36.40" height="8.93" fill="#9dae28" rx="2.5" />
<rect x="321.40" y="1144.58" width="36.40" height="8.93" fill="url(#hatch)" rx="2.5" />
<text x="326.89" y="1140.17" font-size="13.5" fill="#9dae28" font-weight="bold" textLength="25.33" lengthAdjust="spacingAndGlyphs"  stroke="#9dae28" stroke-width="0.5">5%</text>
<rect x="316.00" y="1153.00" width="47.20" height="3.00" fill="#245a78" />
<rect x="316.00" y="1175.00" width="47.20" height="3.00" fill="#245a78" />
<text x="326.48" y="1171.30" font-size="16.5" fill="#3a3b3b" textLength="26.26" lengthAdjust="spacingAndGlyphs"  >65+</text>
<text x="397.34" y="1001.00" font-size="15.2" fill="#252628" font-weight="bold" textLength="288.21" lengthAdjust="spacingAndGlyphs"  >Got up-to-the-minute traffic or public</text>
<text x="397.85" y="1019.20" font-size="15.2" fill="#252628" font-weight="bold" textLength="79.29" lengthAdjust="spacingAndGlyphs"  >transit info</text>
<rect x="397.00" y="1036.70" width="84.40" height="140.50" fill="#2c2f37" rx="8" />
<rect x="402.40" y="1047.70" width="73.80" height="108.50" fill="#5a5859" />
<rect x="424.50" y="1043.00" width="29.00" height="2.60" fill="#4a4d55" rx="1.3" />
<rect x="403.00" y="1160.70" width="72.40" height="3.00" fill="#3d4048" />
<circle cx="438.7" cy="1088.9" r="26.4" fill="#dfe3d4" stroke="#3e8582" stroke-width="7.8"/>
<circle cx="430.7" cy="1077.9" r="4.3" fill="none" stroke="#23262c" stroke-width="2"/><circle cx="446.7" cy="1077.9" r="4.3" fill="none" stroke="#23262c" stroke-width="2"/><path d="M430.7,1076.9 L435.7,1071.9 L443.7,1071.9 L446.7,1076.9 Z" fill="#23262c"/><circle cx="438.7" cy="1066.9" r="2" fill="#23262c"/><path d="M436.7,1068.9 L441.7,1068.9 L442.7,1072.9 L435.7,1072.9 Z" fill="#23262c"/>
<path d="M429.7,1086.9 L447.7,1086.9 L449.7,1094.9 L449.7,1104.9 L427.7,1104.9 L427.7,1094.9 Z" fill="#23262c"/><rect x="431.7" y="1088.9" width="14" height="5" fill="#dfe3d4"/><rect x="427.7" y="1103.9" width="4" height="5" fill="#23262c"/><rect x="445.7" y="1103.9" width="4" height="5" fill="#23262c"/><circle cx="431.7" cy="1098.4" r="1.8" fill="#dfe3d4"/><circle cx="445.7" cy="1098.4" r="1.8" fill="#dfe3d4"/>
<rect x="409.40" y="1125.90" width="59.20" height="2.10" fill="#aaa9a0" />
<rect x="409.40" y="1132.25" width="59.20" height="2.10" fill="#aaa9a0" />
<rect x="409.40" y="1138.60" width="59.20" height="2.10" fill="#aaa9a0" />
<rect x="409.40" y="1144.95" width="59.20" height="2.10" fill="#aaa9a0" />
<rect x="499.70" y="1100.77" width="36.40" height="52.73" fill="#dc5e3e" rx="2.5" />
<rect x="499.70" y="1100.77" width="36.40" height="52.73" fill="url(#hatch)" rx="2.5" />
<text x="500.37" y="1096.37" font-size="13.5" fill="#dc5e3e" font-weight="bold" textLength="35.08" lengthAdjust="spacingAndGlyphs"  stroke="#dc5e3e" stroke-width="0.5">31%</text>
<rect x="494.30" y="1153.00" width="47.20" height="3.00" fill="#245a78" />
<rect x="494.30" y="1175.00" width="47.20" height="3.00" fill="#245a78" />
<text x="497.89" y="1171.30" font-size="16.5" fill="#3a3b3b" textLength="39.60" lengthAdjust="spacingAndGlyphs"  >18-29</text>
<rect x="562.60" y="1114.24" width="36.40" height="39.26" fill="#1e4b6a" rx="2.5" />
<rect x="562.60" y="1114.24" width="36.40" height="39.26" fill="url(#hatch)" rx="2.5" />
<text x="563.19" y="1109.84" font-size="13.5" fill="#1e4b6a" font-weight="bold" textLength="35.08" lengthAdjust="spacingAndGlyphs"  stroke="#1e4b6a" stroke-width="0.5">23%</text>
<rect x="557.20" y="1153.00" width="47.20" height="3.00" fill="#245a78" />
<rect x="557.20" y="1175.00" width="47.20" height="3.00" fill="#245a78" />
<text x="561.06" y="1171.30" font-size="16.5" fill="#3a3b3b" textLength="39.60" lengthAdjust="spacingAndGlyphs"  >30-49</text>
<rect x="625.50" y="1134.46" width="36.40" height="19.04" fill="#3f8683" rx="2.5" />
<rect x="625.50" y="1134.46" width="36.40" height="19.04" fill="url(#hatch)" rx="2.5" />
<text x="626.35" y="1130.06" font-size="13.5" fill="#3f8683" font-weight="bold" textLength="34.11" lengthAdjust="spacingAndGlyphs"  stroke="#3f8683" stroke-width="0.5">11%</text>
<rect x="620.10" y="1153.00" width="47.20" height="3.00" fill="#245a78" />
<rect x="620.10" y="1175.00" width="47.20" height="3.00" fill="#245a78" />
<text x="623.84" y="1171.30" font-size="16.5" fill="#3a3b3b" textLength="39.60" lengthAdjust="spacingAndGlyphs"  >50-64</text>
<rect x="688.40" y="1145.50" width="36.40" height="8.00" fill="#9dae28" rx="2.5" />
<rect x="688.40" y="1145.50" width="36.40" height="8.00" fill="url(#hatch)" rx="2.5" />
<text x="694.03" y="1141.10" font-size="13.5" fill="#9dae28" font-weight="bold" textLength="25.33" lengthAdjust="spacingAndGlyphs"  stroke="#9dae28" stroke-width="0.5">4%</text>
<rect x="683.00" y="1153.00" width="47.20" height="3.00" fill="#245a78" />
<rect x="683.00" y="1175.00" width="47.20" height="3.00" fill="#245a78" />
<text x="693.48" y="1171.30" font-size="16.5" fill="#3a3b3b" textLength="26.26" lengthAdjust="spacingAndGlyphs"  >65+</text>
<line x1="30" y1="1192.7" x2="364" y2="1192.7" stroke="#1d3c48" stroke-width="2.4" stroke-linecap="round" stroke-dasharray="0 5.2"/>
<line x1="398" y1="1192.7" x2="731" y2="1192.7" stroke="#1d3c48" stroke-width="2.4" stroke-linecap="round" stroke-dasharray="0 5.2"/>
<circle cx="181.5" cy="1241.3" r="9.2" fill="#e9c95a"/>
<g fill="#9db6b6"><rect x="135.4" y="1252.8" width="58.9" height="7.4" rx="3.6"/><ellipse cx="158.0" cy="1252.8" rx="11.7" ry="9.1"/><ellipse cx="177.3" cy="1253.9" rx="9.6" ry="7.4"/><ellipse cx="142.9" cy="1255.2" rx="6.9" ry="5.3"/><ellipse cx="189.7" cy="1256.1" rx="6.9" ry="4.6"/><rect x="130.5" y="1256.1" width="68.8" height="4.1" rx="2.0"/></g>
<g fill="#9db6b6"><rect x="513.6" y="1259.8" width="95.0" height="7.7" rx="3.7"/><ellipse cx="550.6" cy="1259.8" rx="17.9" ry="9.4"/><ellipse cx="580.0" cy="1260.9" rx="14.7" ry="7.7"/><ellipse cx="527.4" cy="1262.3" rx="10.5" ry="5.4"/><ellipse cx="599.0" cy="1263.2" rx="10.5" ry="4.8"/><rect x="508.5" y="1263.2" width="105.2" height="4.2" rx="2.0"/></g>
<rect x="86.80" y="1345.00" width="3.20" height="32.50" fill="#8b877c" />
<ellipse cx="88.4" cy="1324.5" rx="19.6" ry="26" fill="#3f827e"/>
<rect x="133.60" y="1345.00" width="3.20" height="32.50" fill="#8b877c" />
<ellipse cx="135.2" cy="1324.5" rx="19.6" ry="26" fill="#3f827e"/>
<rect x="180.30" y="1345.00" width="3.20" height="32.50" fill="#8b877c" />
<ellipse cx="181.9" cy="1324.5" rx="19.6" ry="26" fill="#3f827e"/>
<rect x="576.80" y="1345.00" width="3.20" height="32.50" fill="#8b877c" />
<ellipse cx="578.4" cy="1324.5" rx="19.6" ry="26" fill="#3f827e"/>
<rect x="623.50" y="1345.00" width="3.20" height="32.50" fill="#8b877c" />
<ellipse cx="625.1" cy="1324.5" rx="19.6" ry="26" fill="#3f827e"/>
<rect x="670.10" y="1345.00" width="3.20" height="32.50" fill="#8b877c" />
<ellipse cx="671.7" cy="1324.5" rx="19.6" ry="26" fill="#3f827e"/>
<rect x="225.00" y="1287.60" width="311.00" height="38.00" fill="#1f6373" />
<rect x="225.00" y="1287.60" width="311.00" height="38.00" fill="url(#hatchR)" />
<rect x="288.70" y="1277.80" width="181.00" height="42.50" fill="#1f6373" />
<rect x="288.70" y="1277.80" width="181.00" height="42.50" fill="url(#hatchR)" />
<rect x="225.00" y="1325.20" width="63.70" height="52.00" fill="#9b9ca0" />
<rect x="469.60" y="1325.20" width="66.40" height="52.00" fill="#9b9ca0" />
<rect x="288.70" y="1320.20" width="181.00" height="57.00" fill="#7f8186" />
<rect x="231.37" y="1332.00" width="5.40" height="13.00" fill="#2b2f38" />
<rect x="238.57" y="1332.00" width="5.40" height="13.00" fill="#2b2f38" />
<rect x="250.70" y="1332.00" width="5.40" height="13.00" fill="#2b2f38" />
<rect x="257.90" y="1332.00" width="5.40" height="13.00" fill="#2b2f38" />
<rect x="270.03" y="1332.00" width="5.40" height="13.00" fill="#2b2f38" />
<rect x="277.23" y="1332.00" width="5.40" height="13.00" fill="#2b2f38" />
<rect x="231.37" y="1352.00" width="5.40" height="13.00" fill="#2b2f38" />
<rect x="238.57" y="1352.00" width="5.40" height="13.00" fill="#2b2f38" />
<rect x="250.70" y="1352.00" width="5.40" height="13.00" fill="#2b2f38" />
<rect x="257.90" y="1352.00" width="5.40" height="13.00" fill="#2b2f38" />
<rect x="270.03" y="1352.00" width="5.40" height="13.00" fill="#2b2f38" />
<rect x="277.23" y="1352.00" width="5.40" height="13.00" fill="#2b2f38" />
<rect x="476.03" y="1332.00" width="5.40" height="13.00" fill="#2b2f38" />
<rect x="483.23" y="1332.00" width="5.40" height="13.00" fill="#2b2f38" />
<rect x="496.70" y="1332.00" width="5.40" height="13.00" fill="#2b2f38" />
<rect x="503.90" y="1332.00" width="5.40" height="13.00" fill="#2b2f38" />
<rect x="517.37" y="1332.00" width="5.40" height="13.00" fill="#2b2f38" />
<rect x="524.57" y="1332.00" width="5.40" height="13.00" fill="#2b2f38" />
<rect x="476.03" y="1352.00" width="5.40" height="13.00" fill="#2b2f38" />
<rect x="483.23" y="1352.00" width="5.40" height="13.00" fill="#2b2f38" />
<rect x="496.70" y="1352.00" width="5.40" height="13.00" fill="#2b2f38" />
<rect x="503.90" y="1352.00" width="5.40" height="13.00" fill="#2b2f38" />
<rect x="517.37" y="1352.00" width="5.40" height="13.00" fill="#2b2f38" />
<rect x="524.57" y="1352.00" width="5.40" height="13.00" fill="#2b2f38" />
<rect x="295.70" y="1332.00" width="5.40" height="13.00" fill="#2b2f38" />
<rect x="302.90" y="1332.00" width="5.40" height="13.00" fill="#2b2f38" />
<rect x="319.70" y="1332.00" width="5.40" height="13.00" fill="#2b2f38" />
<rect x="326.90" y="1332.00" width="5.40" height="13.00" fill="#2b2f38" />
<rect x="295.70" y="1352.00" width="5.40" height="13.00" fill="#2b2f38" />
<rect x="302.90" y="1352.00" width="5.40" height="13.00" fill="#2b2f38" />
<rect x="319.70" y="1352.00" width="5.40" height="13.00" fill="#2b2f38" />
<rect x="326.90" y="1352.00" width="5.40" height="13.00" fill="#2b2f38" />
<rect x="427.20" y="1332.00" width="5.40" height="13.00" fill="#2b2f38" />
<rect x="434.40" y="1332.00" width="5.40" height="13.00" fill="#2b2f38" />
<rect x="450.20" y="1332.00" width="5.40" height="13.00" fill="#2b2f38" />
<rect x="457.40" y="1332.00" width="5.40" height="13.00" fill="#2b2f38" />
<rect x="427.20" y="1352.00" width="5.40" height="13.00" fill="#2b2f38" />
<rect x="434.40" y="1352.00" width="5.40" height="13.00" fill="#2b2f38" />
<rect x="450.20" y="1352.00" width="5.40" height="13.00" fill="#2b2f38" />
<rect x="457.40" y="1352.00" width="5.40" height="13.00" fill="#2b2f38" />
<path d="M297.2,1303.5 L297.2,1297.5 L301,1294 L304.8,1297.5 L304.8,1303.5 Z" fill="#9aa0a4"/>
<path d="M317.7,1303.5 L317.7,1297.5 L321.5,1294 L325.3,1297.5 L325.3,1303.5 Z" fill="#9aa0a4"/>
<path d="M433.7,1303.5 L433.7,1297.5 L437.5,1294 L441.3,1297.5 L441.3,1303.5 Z" fill="#9aa0a4"/>
<path d="M454.2,1303.5 L454.2,1297.5 L458,1294 L461.8,1297.5 L461.8,1303.5 Z" fill="#9aa0a4"/>
<rect x="337.50" y="1328.00" width="85.00" height="49.50" fill="#6c6f74" />
<path d="M331,1319.5 L379.5,1277.5 L428,1319.5 Z" fill="#262a33"/>
<path d="M344,1314.8 L379.5,1285.5 L415,1314.8 Z" fill="#e1e3e4"/>
<rect x="334.00" y="1317.80" width="91.00" height="10.50" fill="#e6e7e7" />
<rect x="341.30" y="1328.00" width="8.80" height="46.00" fill="#eeeeee" />
<rect x="340.10" y="1372.50" width="11.20" height="4.50" fill="#e4e4e4" />
<rect x="363.90" y="1328.00" width="8.80" height="46.00" fill="#eeeeee" />
<rect x="362.70" y="1372.50" width="11.20" height="4.50" fill="#e4e4e4" />
<rect x="386.50" y="1328.00" width="8.80" height="46.00" fill="#eeeeee" />
<rect x="385.30" y="1372.50" width="11.20" height="4.50" fill="#e4e4e4" />
<rect x="409.00" y="1328.00" width="8.80" height="46.00" fill="#eeeeee" />
<rect x="407.80" y="1372.50" width="11.20" height="4.50" fill="#e4e4e4" />
<rect x="367.50" y="1261.50" width="24.50" height="16.50" fill="#eeeeee" />
<rect x="371.00" y="1264.00" width="1.30" height="13.00" fill="#c4c6c8" />
<rect x="375.50" y="1264.00" width="1.30" height="13.00" fill="#c4c6c8" />
<rect x="380.00" y="1264.00" width="1.30" height="13.00" fill="#c4c6c8" />
<rect x="384.50" y="1264.00" width="1.30" height="13.00" fill="#c4c6c8" />
<rect x="389.00" y="1264.00" width="1.30" height="13.00" fill="#c4c6c8" />
<rect x="366.00" y="1259.50" width="27.50" height="2.60" fill="#262a33" />
<path d="M367.4,1260 A12.2,12.8 0 0 1 391.8,1260 Z" fill="#1f6373"/>
<rect x="378.60" y="1224.00" width="1.80" height="24.00" fill="#2a2d33" />
<circle cx="379.5" cy="1224.5" r="1.8" fill="#2a2d33"/>
<path d="M380.5,1230.4 L428,1230.4 L424,1236.7 L428,1243 L380.5,1243 Z" fill="#dc5e3e"/>
<text x="402.50" y="1240.50" font-size="9.6" fill="#f1e6d6" font-weight="bold" text-anchor="middle" textLength="36.00" lengthAdjust="spacingAndGlyphs" >COLLEGE</text>
<rect x="222.00" y="1376.80" width="317.00" height="1.50" fill="#c9ccc6" />
<text x="30.13" y="1425.50" font-size="34" fill="#1f4d6e" font-weight="bold" textLength="701.97" lengthAdjust="spacingAndGlyphs"  letter-spacing="3.500" word-spacing="4.072"  stroke="#1f4d6e" stroke-width="1.3" stroke-linejoin="round" >COLLEGE STUDENTS ARE NEVER FAR FROM THEIR SMARTPHONES</text>
<line x1="30" y1="1437.8" x2="731" y2="1437.8" stroke="#1d3c48" stroke-width="2.4" stroke-linecap="round" stroke-dasharray="0 5.2"/>
<rect x="28.00" y="1449.50" width="702.00" height="2.60" fill="#173f52" />
<text x="99.97" y="1471.20" font-size="15.2" fill="#dc5e3e" font-weight="bold" textLength="556.92" lengthAdjust="spacingAndGlyphs"  >How often do college students use their smartphone in these situations?*</text>
<rect x="28.00" y="1481.70" width="702.00" height="2.60" fill="#173f52" />
<text x="31.60" y="1508.30" font-size="17.6" fill="#3a3b3b" textLength="674.46" lengthAdjust="spacingAndGlyphs"  >Whether standing in line at a coffee shop, lying in bed after just waking up, or</text>
<text x="31.70" y="1527.90" font-size="17.6" fill="#3a3b3b" textLength="690.83" lengthAdjust="spacingAndGlyphs"  >waiting for class to start, college students can’t seem to put their phones down.</text>
<circle cx="37.5" cy="1556.7" r="7.4" fill="#1e4b6a"/>
<text x="50.23" y="1562.60" font-size="17.2" fill="#3a3b3b" textLength="41.90" lengthAdjust="spacingAndGlyphs"  >Often</text>
<circle cx="114.5" cy="1556.7" r="7.4" fill="#6c9d9e"/>
<text x="127.55" y="1562.60" font-size="17.2" fill="#3a3b3b" textLength="83.06" lengthAdjust="spacingAndGlyphs"  >Sometimes</text>
<circle cx="233.3" cy="1556.7" r="7.4" fill="#dc5e3e"/>
<text x="245.25" y="1562.60" font-size="17.2" fill="#3a3b3b" textLength="56.46" lengthAdjust="spacingAndGlyphs"  >Seldom</text>
<circle cx="323.3" cy="1556.7" r="7.4" fill="#9dae28"/>
<text x="334.68" y="1562.60" font-size="17.2" fill="#3a3b3b" textLength="43.91" lengthAdjust="spacingAndGlyphs"  >Never</text>
<line x1="30" y1="1583.3" x2="364" y2="1583.3" stroke="#1d3c48" stroke-width="2.4" stroke-linecap="round" stroke-dasharray="0 5.2"/>
<line x1="398" y1="1583.3" x2="731" y2="1583.3" stroke="#1d3c48" stroke-width="2.4" stroke-linecap="round" stroke-dasharray="0 5.2"/>
<text x="29.95" y="1604.10" font-size="15.2" fill="#252628" font-weight="bold" textLength="324.40" lengthAdjust="spacingAndGlyphs"  >Idle time at work or school (during breaks,</text>
<text x="29.88" y="1622.40" font-size="15.2" fill="#252628" font-weight="bold" textLength="280.53" lengthAdjust="spacingAndGlyphs"  >lunch, boring meetings/classes, etc.)</text>
<text x="397.66" y="1604.10" font-size="15.2" fill="#252628" font-weight="bold" textLength="245.70" lengthAdjust="spacingAndGlyphs"  >Commuting via bus, train, or car</text>
<rect x="93.20" y="1661.70" width="201.60" height="26.60" fill="#1e4b6a" />
<rect x="294.50" y="1661.70" width="45.90" height="26.60" fill="#6c9d9e" />
<rect x="340.10" y="1661.70" width="18.00" height="26.60" fill="#dc5e3e" />
<rect x="357.80" y="1661.70" width="4.30" height="26.60" fill="#9dae28" />
<text x="178.74" y="1650.50" font-size="15" fill="#474848" textLength="30.31" lengthAdjust="spacingAndGlyphs"  >75%</text>
<rect x="193.35" y="1653.70" width="1.00" height="5.00" fill="#6a6a6a" />
<text x="276.35" y="1650.50" font-size="15" fill="#474848" textLength="30.31" lengthAdjust="spacingAndGlyphs"  >17%</text>
<rect x="291.30" y="1653.70" width="1.00" height="3.00" fill="#6a6a6a" />
<line x1="291.8" y1="1655.2" x2="317.3" y2="1655.2" stroke="#6a6a6a" stroke-width="1" stroke-dasharray="1 1"/>
<rect x="316.80" y="1653.70" width="1.00" height="5.00" fill="#6a6a6a" />
<text x="319.35" y="1650.50" font-size="15" fill="#474848" textLength="21.89" lengthAdjust="spacingAndGlyphs"  >7%</text>
<rect x="329.90" y="1653.70" width="1.00" height="3.00" fill="#6a6a6a" />
<line x1="330.4" y1="1655.2" x2="349.0" y2="1655.2" stroke="#6a6a6a" stroke-width="1" stroke-dasharray="1 1"/>
<rect x="348.45" y="1653.70" width="1.00" height="5.00" fill="#6a6a6a" />
<text x="348.76" y="1650.50" font-size="15" fill="#474848" textLength="21.89" lengthAdjust="spacingAndGlyphs"  >1%</text>
<rect x="359.30" y="1653.70" width="1.00" height="5.00" fill="#6a6a6a" />
<rect x="460.70" y="1661.70" width="199.10" height="26.60" fill="#1e4b6a" />
<rect x="659.50" y="1661.70" width="52.30" height="26.60" fill="#6c9d9e" />
<rect x="711.50" y="1661.70" width="13.20" height="26.60" fill="#dc5e3e" />
<rect x="724.40" y="1661.70" width="5.70" height="26.60" fill="#9dae28" />
<text x="545.94" y="1650.50" font-size="15" fill="#474848" textLength="30.31" lengthAdjust="spacingAndGlyphs"  >74%</text>
<rect x="559.60" y="1653.70" width="1.00" height="5.00" fill="#6a6a6a" />
<text x="642.95" y="1650.50" font-size="15" fill="#474848" textLength="30.31" lengthAdjust="spacingAndGlyphs"  >19%</text>
<rect x="657.90" y="1653.70" width="1.00" height="3.00" fill="#6a6a6a" />
<line x1="658.4" y1="1655.2" x2="685.5" y2="1655.2" stroke="#6a6a6a" stroke-width="1" stroke-dasharray="1 1"/>
<rect x="685.00" y="1653.70" width="1.00" height="5.00" fill="#6a6a6a" />
<text x="686.02" y="1650.50" font-size="15" fill="#474848" textLength="21.89" lengthAdjust="spacingAndGlyphs"  >5%</text>
<rect x="696.50" y="1653.70" width="1.00" height="3.00" fill="#6a6a6a" />
<line x1="697.0" y1="1655.2" x2="718.0" y2="1655.2" stroke="#6a6a6a" stroke-width="1" stroke-dasharray="1 1"/>
<rect x="717.45" y="1653.70" width="1.00" height="5.00" fill="#6a6a6a" />
<text x="716.05" y="1650.50" font-size="15" fill="#474848" textLength="21.89" lengthAdjust="spacingAndGlyphs"  >2%</text>
<rect x="726.60" y="1653.70" width="1.00" height="5.00" fill="#6a6a6a" />
<rect x="31.10" y="1659.30" width="33.50" height="2.90" fill="#3e8582" rx="1.4" />
<rect x="34.80" y="1664.20" width="29.80" height="3.90" fill="#cfd3c4" />
<rect x="31.10" y="1669.60" width="33.50" height="2.50" fill="#3e8582" rx="1.2" />
<rect x="30.50" y="1673.30" width="34.00" height="2.50" fill="#1e4a6b" rx="1.2" />
<rect x="34.80" y="1677.00" width="29.80" height="7.60" fill="#cfd3c4" />
<rect x="30.50" y="1686.00" width="34.00" height="2.30" fill="#1e4a6b" rx="1.1" />
<path d="M63.7,1656.2 L85.2,1656.2 L82.8,1688.1000000000001 L66,1688.1000000000001 Z" fill="#dc5e3e"/>
<path d="M64,1661.7 L84.8,1671.7 L84,1682.7 L64.8,1672.7 Z" fill="#9dae28"/>
<rect x="62.30" y="1653.90" width="24.60" height="2.60" fill="#24303a" />
<path d="M75,1653.7 L76.8,1641.7 L82.5,1646.2" fill="none" stroke="#9dae28" stroke-width="2.1"/>
<circle cx="417.4" cy="1658.9" r="19.3" fill="#25282f"/>
<circle cx="417.4" cy="1658.9" r="14.6" fill="#9a9a9c"/>
<circle cx="417.4" cy="1658.9" r="10.5" fill="#8a8a8e"/>
<circle cx="417.4" cy="1658.9" r="6.5" fill="#6d6d72"/>
<circle cx="450.7" cy="1660.4" r="4.8" fill="none" stroke="#9dae28" stroke-width="1.8"/>
<line x1="443.0" y1="1669.7" x2="430.0" y2="1687.7" stroke="#9dae28" stroke-width="3"/>
<line x1="445.0" y1="1670.7" x2="440.0" y2="1686.7" stroke="#9dae28" stroke-width="3"/>
<circle cx="443.3" cy="1667.4" r="4.2" fill="#3e8582"/>
<line x1="30" y1="1708.9" x2="364" y2="1708.9" stroke="#1d3c48" stroke-width="2.4" stroke-linecap="round" stroke-dasharray="0 5.2"/>
<line x1="398" y1="1708.9" x2="731" y2="1708.9" stroke="#1d3c48" stroke-width="2.4" stroke-linecap="round" stroke-dasharray="0 5.2"/>
<text x="31.00" y="1729.70" font-size="15.2" fill="#252628" font-weight="bold" textLength="323.74" lengthAdjust="spacingAndGlyphs"  >Waiting in line (coffee shop, grocery store,</text>
<text x="30.36" y="1748.00" font-size="15.2" fill="#252628" font-weight="bold" textLength="32.97" lengthAdjust="spacingAndGlyphs"  >etc.)</text>
<text x="397.22" y="1729.70" font-size="15.2" fill="#252628" font-weight="bold" textLength="189.02" lengthAdjust="spacingAndGlyphs"  >In bed before getting up</text>
<rect x="93.20" y="1787.30" width="147.80" height="26.60" fill="#1e4b6a" />
<rect x="240.70" y="1787.30" width="80.90" height="26.60" fill="#6c9d9e" />
<rect x="321.30" y="1787.30" width="37.90" height="26.60" fill="#dc5e3e" />
<rect x="358.90" y="1787.30" width="3.20" height="26.60" fill="#9dae28" />
<text x="152.02" y="1776.10" font-size="15" fill="#474848" textLength="30.31" lengthAdjust="spacingAndGlyphs"  >55%</text>
<rect x="166.45" y="1779.30" width="1.00" height="5.00" fill="#6a6a6a" />
<text x="265.82" y="1776.10" font-size="15" fill="#474848" textLength="30.31" lengthAdjust="spacingAndGlyphs"  >30%</text>
<rect x="280.50" y="1779.30" width="1.00" height="5.00" fill="#6a6a6a" />
<text x="313.95" y="1776.10" font-size="15" fill="#474848" textLength="30.31" lengthAdjust="spacingAndGlyphs"  >14%</text>
<rect x="328.90" y="1779.30" width="1.00" height="3.00" fill="#6a6a6a" />
<line x1="329.4" y1="1780.8" x2="340.1" y2="1780.8" stroke="#6a6a6a" stroke-width="1" stroke-dasharray="1 1"/>
<rect x="339.60" y="1779.30" width="1.00" height="5.00" fill="#6a6a6a" />
<text x="348.16" y="1776.10" font-size="15" fill="#474848" textLength="21.89" lengthAdjust="spacingAndGlyphs"  >1%</text>
<rect x="359.85" y="1779.30" width="1.00" height="5.00" fill="#6a6a6a" />
<rect x="460.70" y="1787.30" width="141.00" height="26.60" fill="#1e4b6a" />
<rect x="601.40" y="1787.30" width="66.90" height="26.60" fill="#6c9d9e" />
<rect x="668.00" y="1787.30" width="37.40" height="26.60" fill="#dc5e3e" />
<rect x="705.10" y="1787.30" width="25.00" height="26.60" fill="#9dae28" />
<text x="516.42" y="1776.10" font-size="15" fill="#474848" textLength="30.31" lengthAdjust="spacingAndGlyphs"  >52%</text>
<rect x="530.55" y="1779.30" width="1.00" height="5.00" fill="#6a6a6a" />
<text x="618.44" y="1776.10" font-size="15" fill="#474848" textLength="30.31" lengthAdjust="spacingAndGlyphs"  >25%</text>
<rect x="634.20" y="1779.30" width="1.00" height="5.00" fill="#6a6a6a" />
<text x="670.85" y="1776.10" font-size="15" fill="#474848" textLength="30.31" lengthAdjust="spacingAndGlyphs"  >14%</text>
<rect x="686.05" y="1779.30" width="1.00" height="5.00" fill="#6a6a6a" />
<text x="705.98" y="1776.10" font-size="15" fill="#474848" textLength="21.89" lengthAdjust="spacingAndGlyphs"  >9%</text>
<rect x="716.95" y="1779.30" width="1.00" height="5.00" fill="#6a6a6a" />
<circle cx="58.9" cy="1788.0000000000002" r="22.1" fill="#d8dccb" stroke="#3e8582" stroke-width="7.8"/>
<path d="M59.5,1775.3000000000002 L59.5,1789.3000000000002 L53,1783.3000000000002" fill="none" stroke="#23262c" stroke-width="1.8"/>
<rect x="396.60" y="1776.90" width="5.70" height="37.00" fill="#1e4a6b" />
<rect x="441.70" y="1776.90" width="5.70" height="37.00" fill="#1e4a6b" />
<rect x="401.30" y="1780.30" width="41.00" height="11.00" fill="#9dae28" />
<rect x="421.30" y="1781.30" width="1.00" height="10.00" fill="#6f7f1c" />
<rect x="394.80" y="1791.70" width="54.50" height="14.50" fill="#dc5e3e" />
<rect x="396.60" y="1806.20" width="5.70" height="7.80" fill="#1e4a6b" />
<rect x="441.70" y="1806.20" width="5.70" height="7.80" fill="#1e4a6b" />
<circle cx="436.90000000000003" cy="1757.8000000000002" r="6.6" fill="#e9c95a"/>
<g fill="#a3b6b6"><rect x="405.8" y="1762.5" width="41.5" height="5.0" rx="2.4"/><ellipse cx="421.7" cy="1762.5" rx="8.2" ry="6.1"/><ellipse cx="435.2" cy="1763.2" rx="6.7" ry="5.0"/><ellipse cx="411.2" cy="1764.1" rx="4.8" ry="3.5"/><ellipse cx="443.9" cy="1764.7" rx="4.8" ry="3.1"/><rect x="402.5" y="1764.7" width="48.1" height="2.8" rx="1.3"/></g>
<line x1="30" y1="1834.2" x2="364" y2="1834.2" stroke="#1d3c48" stroke-width="2.4" stroke-linecap="round" stroke-dasharray="0 5.2"/>
<line x1="398" y1="1834.2" x2="731" y2="1834.2" stroke="#1d3c48" stroke-width="2.4" stroke-linecap="round" stroke-dasharray="0 5.2"/>
<text x="29.96" y="1855.00" font-size="15.2" fill="#252628" font-weight="bold" textLength="206.73" lengthAdjust="spacingAndGlyphs"  >In bed before falling asleep</text>
<text x="397.26" y="1855.00" font-size="15.2" fill="#252628" font-weight="bold" textLength="184.67" lengthAdjust="spacingAndGlyphs"  >For school-related tasks</text>
<rect x="93.20" y="1900.20" width="123.70" height="26.60" fill="#1e4b6a" />
<rect x="216.60" y="1900.20" width="70.10" height="26.60" fill="#6c9d9e" />
<rect x="286.40" y="1900.20" width="45.90" height="26.60" fill="#dc5e3e" />
<rect x="332.00" y="1900.20" width="30.10" height="26.60" fill="#9dae28" />
<text x="139.77" y="1889.00" font-size="15" fill="#474848" textLength="30.31" lengthAdjust="spacingAndGlyphs"  >46%</text>
<rect x="154.40" y="1892.20" width="1.00" height="5.00" fill="#6a6a6a" />
<text x="235.14" y="1889.00" font-size="15" fill="#474848" textLength="30.31" lengthAdjust="spacingAndGlyphs"  >26%</text>
<rect x="251.00" y="1892.20" width="1.00" height="5.00" fill="#6a6a6a" />
<text x="293.55" y="1889.00" font-size="15" fill="#474848" textLength="30.31" lengthAdjust="spacingAndGlyphs"  >17%</text>
<rect x="308.70" y="1892.20" width="1.00" height="5.00" fill="#6a6a6a" />
<text x="335.98" y="1889.00" font-size="15" fill="#474848" textLength="21.89" lengthAdjust="spacingAndGlyphs"  >9%</text>
<rect x="346.40" y="1892.20" width="1.00" height="5.00" fill="#6a6a6a" />
<rect x="460.70" y="1900.20" width="122.30" height="26.60" fill="#1e4b6a" />
<rect x="582.70" y="1900.20" width="99.10" height="26.60" fill="#6c9d9e" />
<rect x="681.50" y="1900.20" width="37.80" height="26.60" fill="#dc5e3e" />
<rect x="719.00" y="1900.20" width="11.10" height="26.60" fill="#9dae28" />
<text x="506.37" y="1889.00" font-size="15" fill="#474848" textLength="30.31" lengthAdjust="spacingAndGlyphs"  >45%</text>
<rect x="521.20" y="1892.20" width="1.00" height="5.00" fill="#6a6a6a" />
<text x="617.42" y="1889.00" font-size="15" fill="#474848" textLength="30.31" lengthAdjust="spacingAndGlyphs"  >37%</text>
<rect x="631.60" y="1892.20" width="1.00" height="5.00" fill="#6a6a6a" />
<text x="671.35" y="1889.00" font-size="15" fill="#474848" textLength="30.31" lengthAdjust="spacingAndGlyphs"  >14%</text>
<rect x="686.30" y="1892.20" width="1.00" height="3.00" fill="#6a6a6a" />
<line x1="686.8" y1="1893.7" x2="700.2" y2="1893.7" stroke="#6a6a6a" stroke-width="1" stroke-dasharray="1 1"/>
<rect x="699.75" y="1892.20" width="1.00" height="5.00" fill="#6a6a6a" />
<text x="714.17" y="1889.00" font-size="15" fill="#474848" textLength="21.89" lengthAdjust="spacingAndGlyphs"  >4%</text>
<rect x="723.90" y="1892.20" width="1.00" height="5.00" fill="#6a6a6a" />
<rect x="29.30" y="1889.80" width="5.70" height="37.00" fill="#1e4a6b" />
<rect x="74.40" y="1889.80" width="5.70" height="37.00" fill="#1e4a6b" />
<rect x="34.00" y="1893.20" width="41.00" height="11.00" fill="#9dae28" />
<rect x="54.00" y="1894.20" width="1.00" height="10.00" fill="#6f7f1c" />
<rect x="27.50" y="1904.60" width="54.50" height="14.50" fill="#dc5e3e" />
<rect x="29.30" y="1919.10" width="5.70" height="7.80" fill="#1e4a6b" />
<rect x="74.40" y="1919.10" width="5.70" height="7.80" fill="#1e4a6b" />
<circle cx="48.5" cy="1870.2" r="5.5" fill="#8e8f8c"/><circle cx="51.5" cy="1868.2" r="5" fill="#dce2d3"/>
<g fill="#a3b6b6"><rect x="38.8" y="1879.7" width="42.4" height="5.0" rx="2.4"/><ellipse cx="55.1" cy="1879.7" rx="8.3" ry="6.1"/><ellipse cx="68.8" cy="1880.4" rx="6.9" ry="5.0"/><ellipse cx="44.3" cy="1881.3" rx="4.9" ry="3.5"/><ellipse cx="77.6" cy="1881.9" rx="4.9" ry="3.1"/><rect x="35.5" y="1881.9" width="49.0" height="2.8" rx="1.3"/></g>
<rect x="404.80" y="1893.90" width="43.00" height="14.80" fill="#3e8582" rx="3" />
<rect x="408.00" y="1896.70" width="40.00" height="9.00" fill="#cfd2c4" />
<rect x="402.60" y="1908.20" width="52.60" height="18.30" fill="#1e4a6b" rx="4" />
<rect x="402.60" y="1911.20" width="49.00" height="12.00" fill="#cfd2c4" />
<rect x="402.60" y="1912.70" width="49.00" height="1.00" fill="#aeb2a4" />
<rect x="402.60" y="1916.20" width="49.00" height="1.00" fill="#aeb2a4" />
<path d="M426.0,1870.2 C420.0,1866.2 412.0,1871.2 413.5,1881.2 C415.0,1890.2 421.0,1894.2 426.0,1892.7 C431.0,1894.2 437.0,1890.2 438.5,1881.2 C440.0,1871.2 432.0,1866.2 426.0,1870.2 Z" fill="#dc5e3e"/>
<line x1="426.0" y1="1870.2" x2="425.0" y2="1864.2" stroke="#2a2d33" stroke-width="1.5"/>
<line x1="30" y1="1947.1" x2="364" y2="1947.1" stroke="#1d3c48" stroke-width="2.4" stroke-linecap="round" stroke-dasharray="0 5.2"/>
<line x1="398" y1="1947.1" x2="731" y2="1947.1" stroke="#1d3c48" stroke-width="2.4" stroke-linecap="round" stroke-dasharray="0 5.2"/>
<text x="29.96" y="1967.90" font-size="15.2" fill="#252628" font-weight="bold" textLength="171.11" lengthAdjust="spacingAndGlyphs"  >For work-related tasks</text>
<text x="398.30" y="1967.90" font-size="15.2" fill="#252628" font-weight="bold" textLength="126.57" lengthAdjust="spacingAndGlyphs"  >While exercising</text>
<rect x="93.20" y="2013.10" width="104.90" height="26.60" fill="#1e4b6a" />
<rect x="197.80" y="2013.10" width="94.30" height="26.60" fill="#6c9d9e" />
<rect x="291.80" y="2013.10" width="45.90" height="26.60" fill="#dc5e3e" />
<rect x="337.40" y="2013.10" width="24.70" height="26.60" fill="#9dae28" />
<text x="130.67" y="2001.90" font-size="15" fill="#474848" textLength="30.31" lengthAdjust="spacingAndGlyphs"  >46%</text>
<rect x="145.00" y="2005.10" width="1.00" height="5.00" fill="#6a6a6a" />
<text x="229.24" y="2001.90" font-size="15" fill="#474848" textLength="30.31" lengthAdjust="spacingAndGlyphs"  >26%</text>
<rect x="244.30" y="2005.10" width="1.00" height="5.00" fill="#6a6a6a" />
<text x="298.85" y="2001.90" font-size="15" fill="#474848" textLength="30.31" lengthAdjust="spacingAndGlyphs"  >17%</text>
<rect x="314.10" y="2005.10" width="1.00" height="5.00" fill="#6a6a6a" />
<text x="338.78" y="2001.90" font-size="15" fill="#474848" textLength="21.89" lengthAdjust="spacingAndGlyphs"  >9%</text>
<rect x="349.10" y="2005.10" width="1.00" height="5.00" fill="#6a6a6a" />
<rect x="460.70" y="2013.10" width="95.40" height="26.60" fill="#9dae28" />
<rect x="555.80" y="2013.10" width="70.10" height="26.60" fill="#dc5e3e" />
<rect x="625.60" y="2013.10" width="59.40" height="26.60" fill="#6c9d9e" />
<rect x="684.70" y="2013.10" width="45.40" height="26.60" fill="#1e4b6a" />
<text x="492.82" y="2001.90" font-size="15" fill="#474848" textLength="30.31" lengthAdjust="spacingAndGlyphs"  >35%</text>
<rect x="507.75" y="2005.10" width="1.00" height="5.00" fill="#6a6a6a" />
<text x="575.44" y="2001.90" font-size="15" fill="#474848" textLength="30.31" lengthAdjust="spacingAndGlyphs"  >26%</text>
<rect x="590.20" y="2005.10" width="1.00" height="5.00" fill="#6a6a6a" />
<text x="639.94" y="2001.90" font-size="15" fill="#474848" textLength="30.31" lengthAdjust="spacingAndGlyphs"  >22%</text>
<rect x="654.65" y="2005.10" width="1.00" height="5.00" fill="#6a6a6a" />
<text x="692.35" y="2001.90" font-size="15" fill="#474848" textLength="30.31" lengthAdjust="spacingAndGlyphs"  >17%</text>
<rect x="706.75" y="2005.10" width="1.00" height="5.00" fill="#6a6a6a" />
<path d="M44,2005.1 L44,1999.1 Q44,1995.6 47.5,1995.6 L63.5,1995.6 Q67,1995.6 67,1999.1 L67,2005.1" fill="none" stroke="#dc5e3e" stroke-width="3.6"/>
<rect x="30.00" y="2003.10" width="51.00" height="37.50" fill="#dc5e3e" rx="6" />
<rect x="40.00" y="2003.10" width="2.40" height="37.50" fill="#b5452b" />
<rect x="68.60" y="2003.10" width="2.40" height="37.50" fill="#b5452b" />
<rect x="37.00" y="2023.60" width="8.40" height="5.00" fill="#4b4b50" rx="1" />
<rect x="65.60" y="2023.60" width="8.40" height="5.00" fill="#4b4b50" rx="1" />
<circle cx="427.8" cy="2012.8" r="26.7" fill="#3e8582"/>
<rect x="412.47" y="1990.80" width="30.66" height="1.10" fill="#347370" />
<rect x="408.13" y="1994.80" width="39.33" height="1.10" fill="#347370" />
<rect x="405.26" y="1998.80" width="45.07" height="1.10" fill="#347370" />
<rect x="403.35" y="2002.80" width="48.91" height="1.10" fill="#347370" />
<rect x="402.17" y="2006.80" width="51.25" height="1.10" fill="#347370" />
<rect x="401.64" y="2010.80" width="52.32" height="1.10" fill="#347370" />
<rect x="401.72" y="2014.80" width="52.17" height="1.10" fill="#347370" />
<rect x="402.40" y="2018.80" width="50.79" height="1.10" fill="#347370" />
<rect x="403.75" y="2022.80" width="48.10" height="1.10" fill="#347370" />
<circle cx="411.5" cy="2026.8" r="13.5" fill="#6b6b6e"/><circle cx="411.5" cy="2026.8" r="9" fill="#5d5d60"/>
<circle cx="435.9" cy="2026.8" r="14.5" fill="#25282f"/><circle cx="435.9" cy="2026.8" r="9.5" fill="#4e4e52"/>
<rect x="420.00" y="2024.60" width="14.00" height="4.50" fill="#8a8a8c" rx="2" />
<line x1="30" y1="2060.6" x2="364" y2="2060.6" stroke="#1d3c48" stroke-width="2.4" stroke-linecap="round" stroke-dasharray="0 5.2"/>
<line x1="398" y1="2060.6" x2="731" y2="2060.6" stroke="#1d3c48" stroke-width="2.4" stroke-linecap="round" stroke-dasharray="0 5.2"/>
<text x="31.00" y="2081.40" font-size="15.2" fill="#252628" font-weight="bold" textLength="230.76" lengthAdjust="spacingAndGlyphs"  >While driving (wheels moving)</text>
<text x="398.30" y="2081.40" font-size="15.2" fill="#252628" font-weight="bold" textLength="290.39" lengthAdjust="spacingAndGlyphs"  >While driving, waiting for light to turn</text>
<text x="397.66" y="2099.70" font-size="15.2" fill="#252628" font-weight="bold" textLength="145.21" lengthAdjust="spacingAndGlyphs"  >green (not moving)</text>
<rect x="93.20" y="2139.00" width="99.50" height="26.60" fill="#dc5e3e" />
<rect x="192.40" y="2139.00" width="92.70" height="26.60" fill="#9dae28" />
<rect x="284.80" y="2139.00" width="50.20" height="26.60" fill="#6c9d9e" />
<rect x="334.70" y="2139.00" width="27.40" height="26.60" fill="#1e4b6a" />
<text x="127.82" y="2127.80" font-size="15" fill="#474848" textLength="30.31" lengthAdjust="spacingAndGlyphs"  >37%</text>
<rect x="142.30" y="2131.00" width="1.00" height="5.00" fill="#6a6a6a" />
<text x="223.42" y="2127.80" font-size="15" fill="#474848" textLength="30.31" lengthAdjust="spacingAndGlyphs"  >34%</text>
<rect x="238.10" y="2131.00" width="1.00" height="5.00" fill="#6a6a6a" />
<text x="294.05" y="2127.80" font-size="15" fill="#474848" textLength="30.31" lengthAdjust="spacingAndGlyphs"  >19%</text>
<rect x="309.25" y="2131.00" width="1.00" height="5.00" fill="#6a6a6a" />
<text x="332.75" y="2127.80" font-size="15" fill="#474848" textLength="30.31" lengthAdjust="spacingAndGlyphs"  >10%</text>
<rect x="347.75" y="2131.00" width="1.00" height="5.00" fill="#6a6a6a" />
<rect x="460.70" y="2139.00" width="95.40" height="26.60" fill="#6c9d9e" />
<rect x="555.80" y="2139.00" width="80.90" height="26.60" fill="#dc5e3e" />
<rect x="636.40" y="2139.00" width="50.70" height="26.60" fill="#9dae28" />
<rect x="686.80" y="2139.00" width="43.30" height="26.60" fill="#1e4b6a" />
<text x="493.82" y="2127.80" font-size="15" fill="#474848" textLength="30.31" lengthAdjust="spacingAndGlyphs"  >35%</text>
<rect x="507.75" y="2131.00" width="1.00" height="5.00" fill="#6a6a6a" />
<text x="579.82" y="2127.80" font-size="15" fill="#474848" textLength="30.31" lengthAdjust="spacingAndGlyphs"  >30%</text>
<rect x="595.60" y="2131.00" width="1.00" height="5.00" fill="#6a6a6a" />
<text x="645.55" y="2127.80" font-size="15" fill="#474848" textLength="30.31" lengthAdjust="spacingAndGlyphs"  >19%</text>
<rect x="661.10" y="2131.00" width="1.00" height="5.00" fill="#6a6a6a" />
<text x="692.35" y="2127.80" font-size="15" fill="#474848" textLength="30.31" lengthAdjust="spacingAndGlyphs"  >16%</text>
<rect x="707.80" y="2131.00" width="1.00" height="5.00" fill="#6a6a6a" />
<g fill="#262a31"><rect x="47.800000000000004" y="2115.0" width="22.9" height="51.2" rx="4"/><path d="M42.2,2119.0 L48.2,2119.0 L48.2,2127.0 Z"/><path d="M76.30000000000001,2119.0 L70.30000000000001,2119.0 L70.30000000000001,2127.0 Z"/><path d="M42.2,2133.0 L48.2,2133.0 L48.2,2141.0 Z"/><path d="M76.30000000000001,2133.0 L70.30000000000001,2133.0 L70.30000000000001,2141.0 Z"/><path d="M42.2,2147.0 L48.2,2147.0 L48.2,2155.0 Z"/><path d="M76.30000000000001,2147.0 L70.30000000000001,2147.0 L70.30000000000001,2155.0 Z"/></g>
<circle cx="59.2" cy="2127.3" r="6" fill="#3b3433"/>
<circle cx="59.2" cy="2141.6" r="6" fill="#3f3e2e"/>
<circle cx="59.2" cy="2155.0" r="6" fill="#4e9a98"/>
<g fill="#262a31"><rect x="416.3" y="2115.0" width="22.9" height="51.2" rx="4"/><path d="M410.7,2119.0 L416.7,2119.0 L416.7,2127.0 Z"/><path d="M444.8,2119.0 L438.8,2119.0 L438.8,2127.0 Z"/><path d="M410.7,2133.0 L416.7,2133.0 L416.7,2141.0 Z"/><path d="M444.8,2133.0 L438.8,2133.0 L438.8,2141.0 Z"/><path d="M410.7,2147.0 L416.7,2147.0 L416.7,2155.0 Z"/><path d="M444.8,2147.0 L438.8,2147.0 L438.8,2155.0 Z"/></g>
<circle cx="427.7" cy="2127.3" r="6" fill="#d8553a"/>
<circle cx="427.7" cy="2141.6" r="6" fill="#3f3e2e"/>
<circle cx="427.7" cy="2155.0" r="6" fill="#3a3630"/>
<text x="30.89" y="2191.00" font-size="13.2" fill="#454646" textLength="150.60" lengthAdjust="spacingAndGlyphs" font-style="italic"  >*Excluding voice calls.</text>
<rect x="28.00" y="2216.90" width="702.00" height="2.60" fill="#173f52" />
<text x="175.67" y="2238.20" font-size="15.2" fill="#dc5e3e" font-weight="bold" textLength="405.17" lengthAdjust="spacingAndGlyphs"  >Popular smartphone operating systems students use:</text>
<rect x="28.00" y="2248.30" width="702.00" height="2.60" fill="#173f52" />
<circle cx="34.7" cy="2268.5" r="7.4" fill="#dc5e3e"/>
<circle cx="34.7" cy="2268.5" r="7.4" fill="url(#hatch)"/>
<text x="46.94" y="2274.50" font-size="17.2" fill="#3a3b3b" textLength="27.12" lengthAdjust="spacingAndGlyphs"  >iOS</text>
<circle cx="96.7" cy="2268.5" r="7.4" fill="#1e4b6a"/>
<circle cx="96.7" cy="2268.5" r="7.4" fill="url(#hatch)"/>
<text x="108.66" y="2274.50" font-size="17.2" fill="#3a3b3b" textLength="110.14" lengthAdjust="spacingAndGlyphs"  >BlackBerry OS</text>
<circle cx="242" cy="2268.5" r="7.4" fill="#265d72"/>
<circle cx="242" cy="2268.5" r="7.4" fill="url(#hatch)"/>
<text x="254.70" y="2274.50" font-size="17.2" fill="#3a3b3b" textLength="59.76" lengthAdjust="spacingAndGlyphs"  >Android</text>
<circle cx="338.7" cy="2268.5" r="7.4" fill="#4a8885"/>
<circle cx="338.7" cy="2268.5" r="7.4" fill="url(#hatch)"/>
<text x="353.22" y="2274.50" font-size="17.2" fill="#3a3b3b" textLength="121.26" lengthAdjust="spacingAndGlyphs"  >Windows Phone</text>
<circle cx="497.6" cy="2268.5" r="7.4" fill="#9dae28"/>
<circle cx="497.6" cy="2268.5" r="7.4" fill="url(#hatch)"/>
<text x="507.48" y="2274.50" font-size="17.2" fill="#3a3b3b" textLength="40.55" lengthAdjust="spacingAndGlyphs"  >Palm</text>
<clipPath id="osclip"><rect x="28.2" y="2297" width="700.3" height="65.5" rx="8"/></clipPath>
<g clip-path="url(#osclip)">
<rect x="28.20" y="2297.00" width="282.00" height="65.50" fill="#dc5e3e" />
<rect x="309.90" y="2297.00" width="179.40" height="65.50" fill="#1e4b6a" />
<rect x="489.00" y="2297.00" width="156.30" height="65.50" fill="#265d72" />
<rect x="645.00" y="2297.00" width="55.80" height="65.50" fill="#4a8885" />
<rect x="700.50" y="2297.00" width="28.30" height="65.50" fill="#9dae28" />
<rect x="28.20" y="2297.00" width="700.30" height="65.50" fill="url(#hatch)" />
</g>
<text x="241.03" y="2340.20" font-size="24" fill="#dfe3cf" font-weight="bold" textLength="62.60" lengthAdjust="spacingAndGlyphs"  stroke="#dfe3cf" stroke-width="1.2">40%</text>
<text x="424.75" y="2340.20" font-size="24" fill="#dfe3cf" font-weight="bold" textLength="60.25" lengthAdjust="spacingAndGlyphs"  stroke="#dfe3cf" stroke-width="1.2">26%</text>
<text x="579.68" y="2340.20" font-size="24" fill="#dfe3cf" font-weight="bold" textLength="58.39" lengthAdjust="spacingAndGlyphs"  stroke="#dfe3cf" stroke-width="1.2">22%</text>
<text x="650.84" y="2340.20" font-size="24" fill="#dfe3cf" font-weight="bold" textLength="41.59" lengthAdjust="spacingAndGlyphs"  stroke="#dfe3cf" stroke-width="1.2">8%</text>
<text x="687.85" y="2281.70" font-size="21.5" fill="#23262d" font-weight="bold" textLength="42.90" lengthAdjust="spacingAndGlyphs"  stroke="#23262d" stroke-width="1">4%</text>
<rect x="707.60" y="2286.50" width="1.60" height="10.50" fill="#23262d" />
<rect x="28.00" y="2395.40" width="702.00" height="2.60" fill="#173f52" />
<text x="32.31" y="2416.70" font-size="15.2" fill="#dc5e3e" font-weight="bold" textLength="693.55" lengthAdjust="spacingAndGlyphs"  >How often are college students consuming different types of information on their smartphones?</text>
<rect x="28.00" y="2427.20" width="702.00" height="2.60" fill="#173f52" />
<text x="31.60" y="2454.00" font-size="17.6" fill="#3a3b3b" textLength="676.64" lengthAdjust="spacingAndGlyphs"  >While College students do still talk on the phone, smartphones allow students</text>
<text x="31.40" y="2475.00" font-size="17.6" fill="#3a3b3b" textLength="335.69" lengthAdjust="spacingAndGlyphs"  >to perform a variety of other activities.</text>
<circle cx="37.5" cy="2503.3" r="7.4" fill="#255d70"/>
<text x="50.23" y="2509.20" font-size="17.2" fill="#3a3b3b" textLength="41.90" lengthAdjust="spacingAndGlyphs"  >Often</text>
<circle cx="114.5" cy="2503.3" r="7.4" fill="#6c9d9e"/>
<text x="127.55" y="2509.20" font-size="17.2" fill="#3a3b3b" textLength="83.06" lengthAdjust="spacingAndGlyphs"  >Sometimes</text>
<circle cx="233.3" cy="2503.3" r="7.4" fill="#dc5e3e"/>
<text x="245.25" y="2509.20" font-size="17.2" fill="#3a3b3b" textLength="56.46" lengthAdjust="spacingAndGlyphs"  >Seldom</text>
<circle cx="323.3" cy="2503.3" r="7.4" fill="#9dae28"/>
<text x="334.68" y="2509.20" font-size="17.2" fill="#3a3b3b" textLength="43.91" lengthAdjust="spacingAndGlyphs"  >Never</text>
<line x1="30" y1="2529.3" x2="364" y2="2529.3" stroke="#1d3c48" stroke-width="2.4" stroke-linecap="round" stroke-dasharray="0 5.2"/>
<line x1="398" y1="2529.3" x2="731" y2="2529.3" stroke="#1d3c48" stroke-width="2.4" stroke-linecap="round" stroke-dasharray="0 5.2"/>
<text x="30.84" y="2550.10" font-size="15.2" fill="#252628" font-weight="bold" textLength="166.95" lengthAdjust="spacingAndGlyphs"  >Text messaging (SMS)</text>
<text x="397.26" y="2550.10" font-size="15.2" fill="#252628" font-weight="bold" textLength="108.72" lengthAdjust="spacingAndGlyphs"  >Reading email</text>
<rect x="93.20" y="2595.30" width="217.70" height="26.60" fill="#255d70" />
<rect x="310.60" y="2595.30" width="32.50" height="26.60" fill="#6c9d9e" />
<rect x="342.80" y="2595.30" width="13.70" height="26.60" fill="#dc5e3e" />
<rect x="356.20" y="2595.30" width="5.90" height="26.60" fill="#9dae28" />
<text x="186.78" y="2584.10" font-size="15" fill="#474848" textLength="30.31" lengthAdjust="spacingAndGlyphs"  >81%</text>
<rect x="201.40" y="2587.30" width="1.00" height="5.00" fill="#6a6a6a" />
<text x="276.35" y="2584.10" font-size="15" fill="#474848" textLength="30.31" lengthAdjust="spacingAndGlyphs"  >12%</text>
<rect x="291.30" y="2587.30" width="1.00" height="3.00" fill="#6a6a6a" />
<line x1="291.8" y1="2588.8" x2="326.7" y2="2588.8" stroke="#6a6a6a" stroke-width="1" stroke-dasharray="1 1"/>
<rect x="326.20" y="2587.30" width="1.00" height="5.00" fill="#6a6a6a" />
<text x="318.42" y="2584.10" font-size="15" fill="#474848" textLength="21.89" lengthAdjust="spacingAndGlyphs"  >5%</text>
<rect x="328.90" y="2587.30" width="1.00" height="3.00" fill="#6a6a6a" />
<line x1="329.4" y1="2588.8" x2="349.5" y2="2588.8" stroke="#6a6a6a" stroke-width="1" stroke-dasharray="1 1"/>
<rect x="349.00" y="2587.30" width="1.00" height="5.00" fill="#6a6a6a" />
<text x="347.85" y="2584.10" font-size="15" fill="#474848" textLength="21.89" lengthAdjust="spacingAndGlyphs"  >2%</text>
<rect x="358.50" y="2587.30" width="1.00" height="5.00" fill="#6a6a6a" />
<rect x="460.70" y="2595.30" width="208.20" height="26.60" fill="#255d70" />
<rect x="668.60" y="2595.30" width="42.20" height="26.60" fill="#6c9d9e" />
<rect x="710.50" y="2595.30" width="13.70" height="26.60" fill="#9dae28" />
<rect x="723.90" y="2595.30" width="6.20" height="26.60" fill="#dc5e3e" />
<text x="549.14" y="2584.10" font-size="15" fill="#474848" textLength="30.31" lengthAdjust="spacingAndGlyphs"  >77%</text>
<rect x="564.15" y="2587.30" width="1.00" height="5.00" fill="#6a6a6a" />
<text x="640.25" y="2584.10" font-size="15" fill="#474848" textLength="30.31" lengthAdjust="spacingAndGlyphs"  >16%</text>
<rect x="655.20" y="2587.30" width="1.00" height="3.00" fill="#6a6a6a" />
<line x1="655.7" y1="2588.8" x2="689.5" y2="2588.8" stroke="#6a6a6a" stroke-width="1" stroke-dasharray="1 1"/>
<rect x="689.05" y="2587.30" width="1.00" height="5.00" fill="#6a6a6a" />
<text x="687.12" y="2584.10" font-size="15" fill="#474848" textLength="21.89" lengthAdjust="spacingAndGlyphs"  >5%</text>
<rect x="697.60" y="2587.30" width="1.00" height="3.00" fill="#6a6a6a" />
<line x1="698.1" y1="2588.8" x2="717.2" y2="2588.8" stroke="#6a6a6a" stroke-width="1" stroke-dasharray="1 1"/>
<rect x="716.70" y="2587.30" width="1.00" height="5.00" fill="#6a6a6a" />
<text x="716.05" y="2584.10" font-size="15" fill="#474848" textLength="21.89" lengthAdjust="spacingAndGlyphs"  >2%</text>
<rect x="726.35" y="2587.30" width="1.00" height="5.00" fill="#6a6a6a" />
<rect x="30.00" y="2573.40" width="51.70" height="40.70" fill="#9dae28" />
<path d="M36,2613.8 L39,2621.8 L47,2613.8 Z" fill="#9dae28"/>
<rect x="35.00" y="2580.90" width="41.70" height="1.80" fill="#56611a" />
<rect x="35.00" y="2586.50" width="41.70" height="1.80" fill="#56611a" />
<rect x="35.00" y="2592.50" width="41.70" height="1.80" fill="#56611a" />
<rect x="35.00" y="2598.20" width="41.70" height="1.80" fill="#56611a" />
<rect x="35.00" y="2604.90" width="41.70" height="1.80" fill="#56611a" />
<path d="M398.1,2590.5 L411.3,2582.3 Q425.1,2575.3 438.90000000000003,2582.3 L452.2,2590.5 Z" fill="#c9543a"/>
<rect x="404.80" y="2583.10" width="40.80" height="21.40" fill="#9dae28" />
<rect x="408.80" y="2587.30" width="32.80" height="2.00" fill="#56611a" />
<rect x="408.80" y="2592.80" width="32.80" height="2.00" fill="#56611a" />
<rect x="408.80" y="2598.30" width="32.80" height="2.00" fill="#56611a" />
<path d="M398.1,2590.5 L425.1,2605.3 L452.2,2590.5 L452.2,2620.8 L398.1,2620.8 Z" fill="#dc5e3e"/>
<line x1="30" y1="2642.2" x2="364" y2="2642.2" stroke="#1d3c48" stroke-width="2.4" stroke-linecap="round" stroke-dasharray="0 5.2"/>
<line x1="398" y1="2642.2" x2="731" y2="2642.2" stroke="#1d3c48" stroke-width="2.4" stroke-linecap="round" stroke-dasharray="0 5.2"/>
<text x="30.52" y="2663.00" font-size="15.2" fill="#252628" font-weight="bold" textLength="258.94" lengthAdjust="spacingAndGlyphs"  >Searching for specific information</text>
<text x="398.14" y="2663.00" font-size="15.2" fill="#252628" font-weight="bold" textLength="160.06" lengthAdjust="spacingAndGlyphs"  >Talking on the phone</text>
<rect x="93.20" y="2708.20" width="181.10" height="26.60" fill="#255d70" />
<rect x="274.00" y="2708.20" width="66.40" height="26.60" fill="#6c9d9e" />
<rect x="340.10" y="2708.20" width="16.40" height="26.60" fill="#dc5e3e" />
<rect x="356.20" y="2708.20" width="5.90" height="26.60" fill="#9dae28" />
<text x="166.44" y="2697.00" font-size="15" fill="#474848" textLength="30.31" lengthAdjust="spacingAndGlyphs"  >67%</text>
<rect x="183.10" y="2700.20" width="1.00" height="5.00" fill="#6a6a6a" />
<text x="276.54" y="2697.00" font-size="15" fill="#474848" textLength="30.31" lengthAdjust="spacingAndGlyphs"  >25%</text>
<rect x="291.30" y="2700.20" width="1.00" height="3.00" fill="#6a6a6a" />
<line x1="291.8" y1="2701.7" x2="307.1" y2="2701.7" stroke="#6a6a6a" stroke-width="1" stroke-dasharray="1 1"/>
<rect x="306.55" y="2700.20" width="1.00" height="5.00" fill="#6a6a6a" />
<text x="318.35" y="2697.00" font-size="15" fill="#474848" textLength="21.89" lengthAdjust="spacingAndGlyphs"  >6%</text>
<rect x="328.90" y="2700.20" width="1.00" height="3.00" fill="#6a6a6a" />
<line x1="329.4" y1="2701.7" x2="348.1" y2="2701.7" stroke="#6a6a6a" stroke-width="1" stroke-dasharray="1 1"/>
<rect x="347.65" y="2700.20" width="1.00" height="5.00" fill="#6a6a6a" />
<text x="347.85" y="2697.00" font-size="15" fill="#474848" textLength="21.89" lengthAdjust="spacingAndGlyphs"  >2%</text>
<rect x="358.50" y="2700.20" width="1.00" height="5.00" fill="#6a6a6a" />
<rect x="460.70" y="2708.20" width="173.30" height="26.60" fill="#255d70" />
<rect x="633.70" y="2708.20" width="77.60" height="26.60" fill="#6c9d9e" />
<rect x="711.00" y="2708.20" width="16.40" height="26.60" fill="#dc5e3e" />
<rect x="727.10" y="2708.20" width="3.00" height="26.60" fill="#9dae28" />
<text x="531.94" y="2697.00" font-size="15" fill="#474848" textLength="30.31" lengthAdjust="spacingAndGlyphs"  >64%</text>
<rect x="546.70" y="2700.20" width="1.00" height="5.00" fill="#6a6a6a" />
<text x="641.54" y="2697.00" font-size="15" fill="#474848" textLength="30.31" lengthAdjust="spacingAndGlyphs"  >29%</text>
<rect x="656.30" y="2700.20" width="1.00" height="3.00" fill="#6a6a6a" />
<line x1="656.8" y1="2701.7" x2="672.4" y2="2701.7" stroke="#6a6a6a" stroke-width="1" stroke-dasharray="1 1"/>
<rect x="671.85" y="2700.20" width="1.00" height="5.00" fill="#6a6a6a" />
<text x="687.65" y="2697.00" font-size="15" fill="#474848" textLength="21.89" lengthAdjust="spacingAndGlyphs"  >6%</text>
<rect x="698.20" y="2700.20" width="1.00" height="3.00" fill="#6a6a6a" />
<line x1="698.7" y1="2701.7" x2="719.0" y2="2701.7" stroke="#6a6a6a" stroke-width="1" stroke-dasharray="1 1"/>
<rect x="718.55" y="2700.20" width="1.00" height="5.00" fill="#6a6a6a" />
<text x="716.96" y="2697.00" font-size="15" fill="#474848" textLength="21.89" lengthAdjust="spacingAndGlyphs"  >1%</text>
<rect x="727.95" y="2700.20" width="1.00" height="5.00" fill="#6a6a6a" />
<line x1="59.7" y1="2703.8999999999996" x2="77.7" y2="2727.8999999999996" stroke="#3e8582" stroke-width="5" stroke-linecap="butt"/>
<line x1="60.2" y1="2704.8999999999996" x2="62.7" y2="2708.3999999999996" stroke="#1e4a6b" stroke-width="5.6"/>
<circle cx="50.7" cy="2690.8999999999996" r="15.5" fill="#d3d8cb" stroke="#3e8582" stroke-width="4.6"/>
<rect x="409.30" y="2674.60" width="34.70" height="59.20" fill="#2c2f37" rx="4" />
<rect x="411.90" y="2679.40" width="29.50" height="45.50" fill="#59595b" />
<path d="M417.3,2679.3999999999996 L427.3,2679.3999999999996 L419.3,2724.8999999999996 L412.3,2724.8999999999996 Z" fill="#626264"/>
<rect x="420.30" y="2676.40" width="12.00" height="1.50" fill="#55585e" />
<line x1="30" y1="2754.9" x2="364" y2="2754.9" stroke="#1d3c48" stroke-width="2.4" stroke-linecap="round" stroke-dasharray="0 5.2"/>
<line x1="398" y1="2754.9" x2="731" y2="2754.9" stroke="#1d3c48" stroke-width="2.4" stroke-linecap="round" stroke-dasharray="0 5.2"/>
<text x="30.92" y="2775.70" font-size="15.2" fill="#252628" font-weight="bold" textLength="270.61" lengthAdjust="spacingAndGlyphs"  >Viewing content on social networks</text>
<text x="397.66" y="2775.70" font-size="15.2" fill="#252628" font-weight="bold" textLength="204.09" lengthAdjust="spacingAndGlyphs"  >Checking weather forecast</text>
<rect x="93.20" y="2820.90" width="140.90" height="26.60" fill="#255d70" />
<rect x="233.80" y="2820.90" width="66.30" height="26.60" fill="#6c9d9e" />
<rect x="299.80" y="2820.90" width="33.10" height="26.60" fill="#dc5e3e" />
<rect x="332.60" y="2820.90" width="29.50" height="26.60" fill="#9dae28" />
<text x="148.22" y="2809.70" font-size="15" fill="#474848" textLength="30.31" lengthAdjust="spacingAndGlyphs"  >52%</text>
<rect x="163.00" y="2812.90" width="1.00" height="5.00" fill="#6a6a6a" />
<text x="251.24" y="2809.70" font-size="15" fill="#474848" textLength="30.31" lengthAdjust="spacingAndGlyphs"  >22%</text>
<rect x="266.30" y="2812.90" width="1.00" height="5.00" fill="#6a6a6a" />
<text x="300.55" y="2809.70" font-size="15" fill="#474848" textLength="30.31" lengthAdjust="spacingAndGlyphs"  >14%</text>
<rect x="315.70" y="2812.90" width="1.00" height="5.00" fill="#6a6a6a" />
<text x="331.58" y="2809.70" font-size="15" fill="#474848" textLength="29.19" lengthAdjust="spacingAndGlyphs"  >11%</text>
<rect x="346.70" y="2812.90" width="1.00" height="5.00" fill="#6a6a6a" />
<rect x="460.70" y="2820.90" width="127.60" height="26.60" fill="#255d70" />
<rect x="588.00" y="2820.90" width="83.00" height="26.60" fill="#6c9d9e" />
<rect x="670.70" y="2820.90" width="41.10" height="26.60" fill="#dc5e3e" />
<rect x="711.50" y="2820.90" width="18.60" height="26.60" fill="#9dae28" />
<text x="508.57" y="2809.70" font-size="15" fill="#474848" textLength="30.31" lengthAdjust="spacingAndGlyphs"  >48%</text>
<rect x="523.85" y="2812.90" width="1.00" height="5.00" fill="#6a6a6a" />
<text x="614.22" y="2809.70" font-size="15" fill="#474848" textLength="30.31" lengthAdjust="spacingAndGlyphs"  >30%</text>
<rect x="628.85" y="2812.90" width="1.00" height="5.00" fill="#6a6a6a" />
<text x="674.55" y="2809.70" font-size="15" fill="#474848" textLength="30.31" lengthAdjust="spacingAndGlyphs"  >15%</text>
<rect x="690.60" y="2812.90" width="1.00" height="5.00" fill="#6a6a6a" />
<text x="708.55" y="2809.70" font-size="15" fill="#474848" textLength="21.89" lengthAdjust="spacingAndGlyphs"  >7%</text>
<rect x="720.15" y="2812.90" width="1.00" height="5.00" fill="#6a6a6a" />
<polygon points="45.6,2799.8 41.1,2834.2 50.5,2825.4 57.3,2841.9 64.2,2838.4 57.8,2822.7 72.2,2823.1" fill="#23262d"/>
<g fill="#3e8582"><ellipse cx="414.3" cy="2807.9" rx="14" ry="14.5"/><ellipse cx="433.3" cy="2809.9" rx="12.5" ry="10"/><rect x="393.0" y="2808.9" width="54" height="8" rx="4"/><ellipse cx="401.3" cy="2812.9" rx="8" ry="4.5"/></g>
<line x1="399.3" y1="2821.9" x2="402.1" y2="2825.3" stroke="#1e4a6b" stroke-width="1.6" stroke-linecap="round"/>
<line x1="403.8" y1="2828.4" x2="406.6" y2="2831.8" stroke="#1e4a6b" stroke-width="1.6" stroke-linecap="round"/>
<line x1="408.3" y1="2834.9" x2="411.1" y2="2838.3" stroke="#1e4a6b" stroke-width="1.6" stroke-linecap="round"/>
<line x1="408.3" y1="2821.9" x2="411.1" y2="2825.3" stroke="#1e4a6b" stroke-width="1.6" stroke-linecap="round"/>
<line x1="412.8" y1="2828.4" x2="415.6" y2="2831.8" stroke="#1e4a6b" stroke-width="1.6" stroke-linecap="round"/>
<line x1="417.3" y1="2834.9" x2="420.1" y2="2838.3" stroke="#1e4a6b" stroke-width="1.6" stroke-linecap="round"/>
<line x1="417.3" y1="2821.9" x2="420.1" y2="2825.3" stroke="#1e4a6b" stroke-width="1.6" stroke-linecap="round"/>
<line x1="421.8" y1="2828.4" x2="424.6" y2="2831.8" stroke="#1e4a6b" stroke-width="1.6" stroke-linecap="round"/>
<line x1="426.3" y1="2834.9" x2="429.1" y2="2838.3" stroke="#1e4a6b" stroke-width="1.6" stroke-linecap="round"/>
<line x1="426.3" y1="2821.9" x2="429.1" y2="2825.3" stroke="#1e4a6b" stroke-width="1.6" stroke-linecap="round"/>
<line x1="430.8" y1="2828.4" x2="433.6" y2="2831.8" stroke="#1e4a6b" stroke-width="1.6" stroke-linecap="round"/>
<line x1="435.3" y1="2834.9" x2="438.1" y2="2838.3" stroke="#1e4a6b" stroke-width="1.6" stroke-linecap="round"/>
<line x1="435.3" y1="2821.9" x2="438.1" y2="2825.3" stroke="#1e4a6b" stroke-width="1.6" stroke-linecap="round"/>
<line x1="439.8" y1="2828.4" x2="442.6" y2="2831.8" stroke="#1e4a6b" stroke-width="1.6" stroke-linecap="round"/>
<line x1="444.3" y1="2834.9" x2="447.1" y2="2838.3" stroke="#1e4a6b" stroke-width="1.6" stroke-linecap="round"/>
<line x1="30" y1="2867.8" x2="364" y2="2867.8" stroke="#1d3c48" stroke-width="2.4" stroke-linecap="round" stroke-dasharray="0 5.2"/>
<line x1="398" y1="2867.8" x2="731" y2="2867.8" stroke="#1d3c48" stroke-width="2.4" stroke-linecap="round" stroke-dasharray="0 5.2"/>
<text x="29.99" y="2888.60" font-size="15.2" fill="#252628" font-weight="bold" textLength="81.01" lengthAdjust="spacingAndGlyphs"  >Maps, GPS</text>
<text x="397.66" y="2888.60" font-size="15.2" fill="#252628" font-weight="bold" textLength="289.57" lengthAdjust="spacingAndGlyphs"  >Communicating with friends on social</text>
<text x="397.26" y="2906.90" font-size="15.2" fill="#252628" font-weight="bold" textLength="70.40" lengthAdjust="spacingAndGlyphs"  >networks</text>
<rect x="93.20" y="2946.30" width="126.90" height="26.60" fill="#255d70" />
<rect x="219.80" y="2946.30" width="91.10" height="26.60" fill="#6c9d9e" />
<rect x="310.60" y="2946.30" width="33.00" height="26.60" fill="#dc5e3e" />
<rect x="343.30" y="2946.30" width="18.80" height="26.60" fill="#9dae28" />
<text x="141.22" y="2935.10" font-size="15" fill="#474848" textLength="30.31" lengthAdjust="spacingAndGlyphs"  >52%</text>
<rect x="156.00" y="2938.30" width="1.00" height="5.00" fill="#6a6a6a" />
<text x="249.22" y="2935.10" font-size="15" fill="#474848" textLength="30.31" lengthAdjust="spacingAndGlyphs"  >34%</text>
<rect x="264.70" y="2938.30" width="1.00" height="5.00" fill="#6a6a6a" />
<text x="310.15" y="2935.10" font-size="15" fill="#474848" textLength="30.31" lengthAdjust="spacingAndGlyphs"  >12%</text>
<rect x="326.45" y="2938.30" width="1.00" height="5.00" fill="#6a6a6a" />
<text x="340.85" y="2935.10" font-size="15" fill="#474848" textLength="21.89" lengthAdjust="spacingAndGlyphs"  >7%</text>
<rect x="352.05" y="2938.30" width="1.00" height="5.00" fill="#6a6a6a" />
<rect x="460.70" y="2946.30" width="114.20" height="26.60" fill="#255d70" />
<rect x="574.60" y="2946.30" width="69.60" height="26.60" fill="#6c9d9e" />
<rect x="643.90" y="2946.30" width="48.10" height="26.60" fill="#dc5e3e" />
<rect x="691.70" y="2946.30" width="38.40" height="26.60" fill="#9dae28" />
<text x="502.67" y="2935.10" font-size="15" fill="#474848" textLength="30.31" lengthAdjust="spacingAndGlyphs"  >42%</text>
<rect x="517.15" y="2938.30" width="1.00" height="5.00" fill="#6a6a6a" />
<text x="593.14" y="2935.10" font-size="15" fill="#474848" textLength="30.31" lengthAdjust="spacingAndGlyphs"  >25%</text>
<rect x="608.75" y="2938.30" width="1.00" height="5.00" fill="#6a6a6a" />
<text x="652.05" y="2935.10" font-size="15" fill="#474848" textLength="30.31" lengthAdjust="spacingAndGlyphs"  >18%</text>
<rect x="667.30" y="2938.30" width="1.00" height="5.00" fill="#6a6a6a" />
<text x="695.05" y="2935.10" font-size="15" fill="#474848" textLength="30.31" lengthAdjust="spacingAndGlyphs"  >14%</text>
<rect x="710.25" y="2938.30" width="1.00" height="5.00" fill="#6a6a6a" />
<path d="M58.9,2972.1000000000004 L40.4,2941.9 A21.9,21.9 0 1 1 77.4,2941.9 Z" fill="#dc5e3e"/>
<circle cx="58.9" cy="2929.2000000000003" r="9.3" fill="#d2d7c9"/>
<rect x="402.3" y="2942.9" width="15.5" height="26" fill="#dfe3d4" stroke="#1e5468" stroke-width="2.2"/>
<path d="M417.8,2944.3 L423.3,2940.3 L429.3,2926.3 L435.8,2926.3 L435.8,2940.3 L450.3,2940.3 L450.3,2965.3 L446.3,2969.3 L427.3,2969.3 L423.3,2966.8 L417.8,2966.8 Z" fill="#dfe3d4" stroke="#1e5468" stroke-width="2.2" stroke-linejoin="round"/>
<line x1="30" y1="2993.8" x2="364" y2="2993.8" stroke="#1d3c48" stroke-width="2.4" stroke-linecap="round" stroke-dasharray="0 5.2"/>
<line x1="398" y1="2993.8" x2="731" y2="2993.8" stroke="#1d3c48" stroke-width="2.4" stroke-linecap="round" stroke-dasharray="0 5.2"/>
<text x="29.96" y="3014.60" font-size="15.2" fill="#252628" font-weight="bold" textLength="107.82" lengthAdjust="spacingAndGlyphs"  >Reading news</text>
<text x="397.26" y="3014.60" font-size="15.2" fill="#252628" font-weight="bold" textLength="141.66" lengthAdjust="spacingAndGlyphs"  >Listening to music</text>
<rect x="93.20" y="3059.80" width="110.80" height="26.60" fill="#255d70" />
<rect x="203.70" y="3059.80" width="96.40" height="26.60" fill="#6c9d9e" />
<rect x="299.80" y="3059.80" width="35.20" height="26.60" fill="#dc5e3e" />
<rect x="334.70" y="3059.80" width="27.40" height="26.60" fill="#9dae28" />
<text x="133.37" y="3048.60" font-size="15" fill="#474848" textLength="30.31" lengthAdjust="spacingAndGlyphs"  >41%</text>
<rect x="147.95" y="3051.80" width="1.00" height="5.00" fill="#6a6a6a" />
<text x="236.32" y="3048.60" font-size="15" fill="#474848" textLength="30.31" lengthAdjust="spacingAndGlyphs"  >36%</text>
<rect x="251.25" y="3051.80" width="1.00" height="5.00" fill="#6a6a6a" />
<text x="301.55" y="3048.60" font-size="15" fill="#474848" textLength="30.31" lengthAdjust="spacingAndGlyphs"  >13%</text>
<rect x="316.75" y="3051.80" width="1.00" height="5.00" fill="#6a6a6a" />
<text x="331.55" y="3048.60" font-size="15" fill="#474848" textLength="30.31" lengthAdjust="spacingAndGlyphs"  >10%</text>
<rect x="347.75" y="3051.80" width="1.00" height="5.00" fill="#6a6a6a" />
<rect x="460.70" y="3059.80" width="111.00" height="26.60" fill="#255d70" />
<rect x="571.40" y="3059.80" width="72.80" height="26.60" fill="#6c9d9e" />
<rect x="643.90" y="3059.80" width="43.80" height="26.60" fill="#dc5e3e" />
<rect x="687.40" y="3059.80" width="42.70" height="26.60" fill="#9dae28" />
<text x="501.57" y="3048.60" font-size="15" fill="#474848" textLength="30.31" lengthAdjust="spacingAndGlyphs"  >41%</text>
<rect x="515.55" y="3051.80" width="1.00" height="5.00" fill="#6a6a6a" />
<text x="592.14" y="3048.60" font-size="15" fill="#474848" textLength="30.31" lengthAdjust="spacingAndGlyphs"  >27%</text>
<rect x="607.15" y="3051.80" width="1.00" height="5.00" fill="#6a6a6a" />
<text x="649.35" y="3048.60" font-size="15" fill="#474848" textLength="30.31" lengthAdjust="spacingAndGlyphs"  >16%</text>
<rect x="665.15" y="3051.80" width="1.00" height="5.00" fill="#6a6a6a" />
<text x="692.85" y="3048.60" font-size="15" fill="#474848" textLength="30.31" lengthAdjust="spacingAndGlyphs"  >16%</text>
<rect x="708.10" y="3051.80" width="1.00" height="5.00" fill="#6a6a6a" />
<rect x="31" y="3043.4" width="50.7" height="41.4" rx="2.5" fill="#dfe3d4" stroke="#24272d" stroke-width="2"/>
<line x1="74" y1="3042.4" x2="74" y2="3081.8" stroke="#24272d" stroke-width="1.6"/>
<line x1="78" y1="3042.4" x2="78" y2="3083.8" stroke="#24272d" stroke-width="1.6"/>
<rect x="35.00" y="3047.20" width="34.00" height="6.00" fill="#9dae28" />
<rect x="35.00" y="3055.80" width="34.00" height="1.50" fill="#8b8d8a" />
<rect x="35.00" y="3059.40" width="34.00" height="1.50" fill="#8b8d8a" />
<rect x="35.00" y="3063.00" width="34.00" height="1.50" fill="#8b8d8a" />
<rect x="35.00" y="3066.60" width="34.00" height="1.50" fill="#8b8d8a" />
<rect x="35.00" y="3070.20" width="34.00" height="1.50" fill="#8b8d8a" />
<rect x="35.00" y="3073.80" width="34.00" height="1.50" fill="#8b8d8a" />
<rect x="35.00" y="3077.40" width="34.00" height="1.50" fill="#8b8d8a" />
<rect x="35.00" y="3081.00" width="34.00" height="1.50" fill="#8b8d8a" />
<path d="M406.3,3055.8 L425.8,3052.8 L425.8,3077.8 L422.8,3077.8 L422.8,3058.8 L409.3,3061.3 L409.3,3080.8 L406.3,3080.8 Z" fill="#3e8582"/>
<ellipse cx="403.3" cy="3080.8" rx="5.6" ry="4.2" fill="#3e8582" transform="rotate(-20 403.3 3080.8)"/>
<ellipse cx="419.8" cy="3077.8" rx="5.6" ry="4.2" fill="#3e8582" transform="rotate(-20 419.8 3077.8)"/>
<path d="M441.3,3037.2000000000003 L443.8,3037.2000000000003 C445.3,3043.8 453.3,3044.8 456.7,3046.8 C451.3,3045.8 446.3,3044.8 443.8,3042.8 L443.8,3064.8 L441.3,3064.8 Z" fill="#1e4a6b"/>
<ellipse cx="437.8" cy="3065.3" rx="5.8" ry="4.3" fill="#1e4a6b" transform="rotate(-20 437.8 3065.3)"/>
<line x1="30" y1="3106.8" x2="364" y2="3106.8" stroke="#1d3c48" stroke-width="2.4" stroke-linecap="round" stroke-dasharray="0 5.2"/>
<line x1="398" y1="3106.8" x2="731" y2="3106.8" stroke="#1d3c48" stroke-width="2.4" stroke-linecap="round" stroke-dasharray="0 5.2"/>
<text x="30.36" y="3127.60" font-size="15.2" fill="#252628" font-weight="bold" textLength="304.42" lengthAdjust="spacingAndGlyphs"  >Chatting (AIM, Google Talk, Skype Chat,</text>
<text x="30.36" y="3145.90" font-size="15.2" fill="#252628" font-weight="bold" textLength="32.97" lengthAdjust="spacingAndGlyphs"  >etc.)</text>
<text x="397.26" y="3127.60" font-size="15.2" fill="#252628" font-weight="bold" textLength="196.06" lengthAdjust="spacingAndGlyphs"  >Playing solo video games</text>
<rect x="93.20" y="3185.30" width="102.70" height="26.60" fill="#9dae28" />
<rect x="195.60" y="3185.30" width="80.90" height="26.60" fill="#dc5e3e" />
<rect x="276.20" y="3185.30" width="48.10" height="26.60" fill="#6c9d9e" />
<rect x="324.00" y="3185.30" width="38.10" height="26.60" fill="#255d70" />
<text x="128.82" y="3174.10" font-size="15" fill="#474848" textLength="30.31" lengthAdjust="spacingAndGlyphs"  >38%</text>
<rect x="143.90" y="3177.30" width="1.00" height="5.00" fill="#6a6a6a" />
<text x="219.62" y="3174.10" font-size="15" fill="#474848" textLength="30.31" lengthAdjust="spacingAndGlyphs"  >30%</text>
<rect x="235.40" y="3177.30" width="1.00" height="5.00" fill="#6a6a6a" />
<text x="284.35" y="3174.10" font-size="15" fill="#474848" textLength="30.31" lengthAdjust="spacingAndGlyphs"  >18%</text>
<rect x="299.60" y="3177.30" width="1.00" height="5.00" fill="#6a6a6a" />
<text x="326.25" y="3174.10" font-size="15" fill="#474848" textLength="30.31" lengthAdjust="spacingAndGlyphs"  >14%</text>
<rect x="342.40" y="3177.30" width="1.00" height="5.00" fill="#6a6a6a" />
<rect x="460.70" y="3185.30" width="122.30" height="26.60" fill="#9dae28" />
<rect x="582.70" y="3185.30" width="59.30" height="26.60" fill="#dc5e3e" />
<rect x="641.70" y="3185.30" width="56.20" height="26.60" fill="#6c9d9e" />
<rect x="697.60" y="3185.30" width="32.50" height="26.60" fill="#255d70" />
<text x="506.37" y="3174.10" font-size="15" fill="#474848" textLength="30.31" lengthAdjust="spacingAndGlyphs"  >45%</text>
<rect x="521.20" y="3177.30" width="1.00" height="5.00" fill="#6a6a6a" />
<text x="596.94" y="3174.10" font-size="15" fill="#474848" textLength="30.31" lengthAdjust="spacingAndGlyphs"  >22%</text>
<rect x="611.70" y="3177.30" width="1.00" height="5.00" fill="#6a6a6a" />
<text x="654.94" y="3174.10" font-size="15" fill="#474848" textLength="30.31" lengthAdjust="spacingAndGlyphs"  >21%</text>
<rect x="669.15" y="3177.30" width="1.00" height="5.00" fill="#6a6a6a" />
<text x="697.75" y="3174.10" font-size="15" fill="#474848" textLength="30.31" lengthAdjust="spacingAndGlyphs"  >12%</text>
<rect x="713.20" y="3177.30" width="1.00" height="5.00" fill="#6a6a6a" />
<path d="M46,3189.3 L37.6,3202.5 L54,3193.3 Z" fill="#1e4a6b"/>
<ellipse cx="56.1" cy="3175.8" rx="24.4" ry="16.3" fill="#1e4a6b"/>
<ellipse cx="67.2" cy="3191.4" rx="16.4" ry="12.7" fill="#e2e6d8"/>
<path d="M68,3199.3 L79.3,3205.7000000000003 L77,3196.3 Z" fill="#9dae28"/>
<ellipse cx="67.2" cy="3191.4" rx="14.6" ry="11" fill="#9dae28"/>
<g fill="#24272d"><rect x="396.2" y="3179.5" width="56.7" height="18" rx="9"/><circle cx="408.3" cy="3191.7" r="12"/><circle cx="440.90000000000003" cy="3191.7" r="12"/><rect x="424.5" y="3197.0" width="2.4" height="13.5"/></g>
<rect x="403.8" y="3189.3" width="10.5" height="4" rx="1.2" fill="#3e8582"/><rect x="407.05" y="3186.1" width="4" height="10.5" rx="1.2" fill="#3e8582"/>
<line x1="420.7" y1="3195.5" x2="424.7" y2="3190.5" stroke="#dce2d3" stroke-width="1.6"/><line x1="425.7" y1="3195.5" x2="429.7" y2="3190.5" stroke="#dce2d3" stroke-width="1.6"/>
<circle cx="436.8" cy="3192.5" r="2.3" fill="#d0714f"/><circle cx="440.8" cy="3188.5" r="2.3" fill="#d0714f"/><circle cx="441.3" cy="3196.5" r="2.3" fill="#1e4a6b"/><circle cx="445.3" cy="3192.5" r="2.3" fill="#1e4a6b"/>
<text x="418.18" y="3176.20" font-size="24" fill="#1e4a6b" font-weight="bold" textLength="13.14" lengthAdjust="spacingAndGlyphs"  stroke="#1e4a6b" stroke-width="1.4">1</text>
<line x1="30" y1="3232.6" x2="364" y2="3232.6" stroke="#1d3c48" stroke-width="2.4" stroke-linecap="round" stroke-dasharray="0 5.2"/>
<line x1="398" y1="3232.6" x2="731" y2="3232.6" stroke="#1d3c48" stroke-width="2.4" stroke-linecap="round" stroke-dasharray="0 5.2"/>
<text x="31.00" y="3253.40" font-size="15.2" fill="#252628" font-weight="bold" textLength="323.73" lengthAdjust="spacingAndGlyphs"  >Watching video (video podcasts, YouTube,</text>
<text x="30.36" y="3271.70" font-size="15.2" fill="#252628" font-weight="bold" textLength="32.97" lengthAdjust="spacingAndGlyphs"  >etc.)</text>
<text x="397.26" y="3253.40" font-size="15.2" fill="#252628" font-weight="bold" textLength="212.94" lengthAdjust="spacingAndGlyphs"  >Listening to audio podcasts</text>
<rect x="93.20" y="3311.10" width="92.00" height="26.60" fill="#dc5e3e" />
<rect x="184.90" y="3311.10" width="83.50" height="26.60" fill="#6c9d9e" />
<rect x="268.10" y="3311.10" width="69.60" height="26.60" fill="#9dae28" />
<rect x="337.40" y="3311.10" width="24.70" height="26.60" fill="#255d70" />
<text x="125.12" y="3299.90" font-size="15" fill="#474848" textLength="30.31" lengthAdjust="spacingAndGlyphs"  >34%</text>
<rect x="138.55" y="3303.10" width="1.00" height="5.00" fill="#6a6a6a" />
<text x="211.02" y="3299.90" font-size="15" fill="#474848" textLength="30.31" lengthAdjust="spacingAndGlyphs"  >31%</text>
<rect x="226.00" y="3303.10" width="1.00" height="5.00" fill="#6a6a6a" />
<text x="287.24" y="3299.90" font-size="15" fill="#474848" textLength="30.31" lengthAdjust="spacingAndGlyphs"  >27%</text>
<rect x="302.25" y="3303.10" width="1.00" height="5.00" fill="#6a6a6a" />
<text x="338.78" y="3299.90" font-size="15" fill="#474848" textLength="21.89" lengthAdjust="spacingAndGlyphs"  >9%</text>
<rect x="349.10" y="3303.10" width="1.00" height="5.00" fill="#6a6a6a" />
<rect x="460.70" y="3311.10" width="138.40" height="26.60" fill="#9dae28" />
<rect x="598.80" y="3311.10" width="70.10" height="26.60" fill="#dc5e3e" />
<rect x="668.60" y="3311.10" width="37.30" height="26.60" fill="#6c9d9e" />
<rect x="705.60" y="3311.10" width="24.50" height="26.60" fill="#255d70" />
<text x="514.47" y="3299.90" font-size="15" fill="#474848" textLength="30.31" lengthAdjust="spacingAndGlyphs"  >41%</text>
<rect x="529.25" y="3303.10" width="1.00" height="5.00" fill="#6a6a6a" />
<text x="617.84" y="3299.90" font-size="15" fill="#474848" textLength="30.31" lengthAdjust="spacingAndGlyphs"  >26%</text>
<rect x="633.20" y="3303.10" width="1.00" height="5.00" fill="#6a6a6a" />
<text x="671.35" y="3299.90" font-size="15" fill="#474848" textLength="30.31" lengthAdjust="spacingAndGlyphs"  >14%</text>
<rect x="686.60" y="3303.10" width="1.00" height="5.00" fill="#6a6a6a" />
<text x="706.48" y="3299.90" font-size="15" fill="#474848" textLength="21.89" lengthAdjust="spacingAndGlyphs"  >9%</text>
<rect x="717.20" y="3303.10" width="1.00" height="5.00" fill="#6a6a6a" />
<rect x="29.30" y="3292.00" width="55.80" height="46.20" fill="#4a4c50" rx="1" />
<rect x="30.50" y="3297.50" width="53.40" height="39.50" fill="#dfe3d4" />
<rect x="29.30" y="3292.00" width="55.80" height="5.50" fill="#24272d" />
<circle cx="33.3" cy="3294.8" r="1.1" fill="#e05c3a"/>
<circle cx="36.5" cy="3294.8" r="1.1" fill="#e9c95a"/>
<circle cx="39.7" cy="3294.8" r="1.1" fill="#a1b52a"/>
<rect x="32.80" y="3301.00" width="48.80" height="2.60" fill="#24272d" />
<rect x="33.8" y="3306.5" width="46.8" height="28" fill="#dfe3d4" stroke="#4a4c50" stroke-width="1.6"/>
<path d="M52.8,3317.0 L60.8,3321.0 L52.8,3325.0 Z" fill="#dc5e3e"/>
<path d="M411.5,3324.5 A24.5,24.5 0 1 1 439.7,3324.5" fill="none" stroke="#3e8582" stroke-width="3.4"/>
<path d="M417.3,3316.3 A14.5,14.5 0 1 1 433.9,3316.3" fill="none" stroke="#1e4a6b" stroke-width="3.8"/>
<path d="M424.40000000000003,3304.4 L426.8,3304.4 L430.6,3337.4 L420.6,3337.4 Z" fill="#24272d"/>
<circle cx="425.6" cy="3304.4" r="3.9" fill="#24272d"/>
<line x1="30" y1="3358.4" x2="364" y2="3358.4" stroke="#1d3c48" stroke-width="2.4" stroke-linecap="round" stroke-dasharray="0 5.2"/>
<line x1="398" y1="3358.4" x2="731" y2="3358.4" stroke="#1d3c48" stroke-width="2.4" stroke-linecap="round" stroke-dasharray="0 5.2"/>
<text x="29.96" y="3379.20" font-size="15.2" fill="#252628" font-weight="bold" textLength="326.18" lengthAdjust="spacingAndGlyphs"  >Playing video games across networks with</text>
<text x="29.96" y="3397.50" font-size="15.2" fill="#252628" font-weight="bold" textLength="122.10" lengthAdjust="spacingAndGlyphs"  >multiple players</text>
<text x="397.26" y="3379.20" font-size="15.2" fill="#252628" font-weight="bold" textLength="309.18" lengthAdjust="spacingAndGlyphs"  >Reading books (Kindle Reader app, B&amp;N</text>
<text x="397.26" y="3397.50" font-size="15.2" fill="#252628" font-weight="bold" textLength="129.22" lengthAdjust="spacingAndGlyphs"  >Reader app, etc.)</text>
<rect x="93.20" y="3436.90" width="198.90" height="26.60" fill="#9dae28" />
<rect x="291.80" y="3436.90" width="40.50" height="26.60" fill="#dc5e3e" />
<rect x="332.00" y="3436.90" width="19.10" height="26.60" fill="#6c9d9e" />
<rect x="350.80" y="3436.90" width="11.30" height="26.60" fill="#255d70" />
<text x="178.24" y="3425.70" font-size="15" fill="#474848" textLength="30.31" lengthAdjust="spacingAndGlyphs"  >74%</text>
<rect x="192.00" y="3428.90" width="1.00" height="5.00" fill="#6a6a6a" />
<text x="276.35" y="3425.70" font-size="15" fill="#474848" textLength="30.31" lengthAdjust="spacingAndGlyphs"  >15%</text>
<rect x="291.30" y="3428.90" width="1.00" height="3.00" fill="#6a6a6a" />
<line x1="291.8" y1="3430.4" x2="311.9" y2="3430.4" stroke="#6a6a6a" stroke-width="1" stroke-dasharray="1 1"/>
<rect x="311.40" y="3428.90" width="1.00" height="5.00" fill="#6a6a6a" />
<text x="318.35" y="3425.70" font-size="15" fill="#474848" textLength="21.89" lengthAdjust="spacingAndGlyphs"  >7%</text>
<rect x="328.90" y="3428.90" width="1.00" height="3.00" fill="#6a6a6a" />
<line x1="329.4" y1="3430.4" x2="341.4" y2="3430.4" stroke="#6a6a6a" stroke-width="1" stroke-dasharray="1 1"/>
<rect x="340.90" y="3428.90" width="1.00" height="5.00" fill="#6a6a6a" />
<text x="345.97" y="3425.70" font-size="15" fill="#474848" textLength="21.89" lengthAdjust="spacingAndGlyphs"  >4%</text>
<rect x="355.80" y="3428.90" width="1.00" height="5.00" fill="#6a6a6a" />
<rect x="460.70" y="3436.90" width="194.20" height="26.60" fill="#9dae28" />
<rect x="654.60" y="3436.90" width="49.20" height="26.60" fill="#dc5e3e" />
<rect x="703.50" y="3436.90" width="18.60" height="26.60" fill="#6c9d9e" />
<rect x="721.80" y="3436.90" width="8.30" height="26.60" fill="#255d70" />
<text x="543.74" y="3425.70" font-size="15" fill="#474848" textLength="30.31" lengthAdjust="spacingAndGlyphs"  >72%</text>
<rect x="557.15" y="3428.90" width="1.00" height="5.00" fill="#6a6a6a" />
<text x="642.95" y="3425.70" font-size="15" fill="#474848" textLength="30.31" lengthAdjust="spacingAndGlyphs"  >18%</text>
<rect x="657.90" y="3428.90" width="1.00" height="3.00" fill="#6a6a6a" />
<line x1="658.4" y1="3430.4" x2="679.0" y2="3430.4" stroke="#6a6a6a" stroke-width="1" stroke-dasharray="1 1"/>
<rect x="678.55" y="3428.90" width="1.00" height="5.00" fill="#6a6a6a" />
<text x="687.05" y="3425.70" font-size="15" fill="#474848" textLength="21.89" lengthAdjust="spacingAndGlyphs"  >7%</text>
<rect x="697.60" y="3428.90" width="1.00" height="3.00" fill="#6a6a6a" />
<line x1="698.1" y1="3430.4" x2="712.6" y2="3430.4" stroke="#6a6a6a" stroke-width="1" stroke-dasharray="1 1"/>
<rect x="712.15" y="3428.90" width="1.00" height="5.00" fill="#6a6a6a" />
<text x="714.52" y="3425.70" font-size="15" fill="#474848" textLength="21.89" lengthAdjust="spacingAndGlyphs"  >3%</text>
<rect x="725.30" y="3428.90" width="1.00" height="5.00" fill="#6a6a6a" />
<g fill="#24272d"><rect x="28.9" y="3430.9" width="56.7" height="18" rx="9"/><circle cx="41" cy="3443.1" r="12"/><circle cx="73.6" cy="3443.1" r="12"/><rect x="57.199999999999996" y="3448.4" width="2.4" height="13.5"/></g>
<rect x="36.5" y="3440.7000000000003" width="10.5" height="4" rx="1.2" fill="#3e8582"/><rect x="39.75" y="3437.5" width="4" height="10.5" rx="1.2" fill="#3e8582"/>
<line x1="53.4" y1="3446.9" x2="57.4" y2="3441.9" stroke="#dce2d3" stroke-width="1.6"/><line x1="58.4" y1="3446.9" x2="62.4" y2="3441.9" stroke="#dce2d3" stroke-width="1.6"/>
<circle cx="69.5" cy="3443.9" r="2.3" fill="#d0714f"/><circle cx="73.5" cy="3439.9" r="2.3" fill="#d0714f"/><circle cx="74" cy="3447.9" r="2.3" fill="#1e4a6b"/><circle cx="78" cy="3443.9" r="2.3" fill="#1e4a6b"/>
<text x="38.91" y="3428.00" font-size="24" fill="#1e4a6b" font-weight="bold" textLength="35.65" lengthAdjust="spacingAndGlyphs"  stroke="#1e4a6b" stroke-width="1.4">2+</text>
<rect x="402.6" y="3416.4" width="48.89999999999998" height="42.69999999999982" fill="#dc5e3e"/>
<path d="M405.1,3417.4 Q414.6,3414.4 427.05,3417.4 Q439.5,3414.4 449.0,3417.4 L449.0,3455.1 Q439.5,3452.1 427.05,3456.1 Q414.6,3452.1 405.1,3455.1 Z" fill="#dfe3d4" stroke="#3a3c3c" stroke-width="1"/>
<line x1="427.05" y1="3417.4" x2="427.05" y2="3456.1" stroke="#3a3c3c" stroke-width="1.2"/>
<path d="M407.6,3421.4 Q415.6,3419.9 425.05,3421.4 M429.05,3421.4 Q438.5,3419.9 446.5,3421.4" fill="none" stroke="#55585a" stroke-width="0.9"/>
<path d="M407.6,3425.0 Q415.6,3423.5 425.05,3425.0 M429.05,3425.0 Q438.5,3423.5 446.5,3425.0" fill="none" stroke="#55585a" stroke-width="0.9"/>
<path d="M407.6,3428.6 Q415.6,3427.1 425.05,3428.6 M429.05,3428.6 Q438.5,3427.1 446.5,3428.6" fill="none" stroke="#55585a" stroke-width="0.9"/>
<path d="M407.6,3432.2 Q415.6,3430.7 425.05,3432.2 M429.05,3432.2 Q438.5,3430.7 446.5,3432.2" fill="none" stroke="#55585a" stroke-width="0.9"/>
<path d="M407.6,3435.8 Q415.6,3434.3 425.05,3435.8 M429.05,3435.8 Q438.5,3434.3 446.5,3435.8" fill="none" stroke="#55585a" stroke-width="0.9"/>
<path d="M407.6,3439.4 Q415.6,3437.9 425.05,3439.4 M429.05,3439.4 Q438.5,3437.9 446.5,3439.4" fill="none" stroke="#55585a" stroke-width="0.9"/>
<path d="M407.6,3443.0 Q415.6,3441.5 425.05,3443.0 M429.05,3443.0 Q438.5,3441.5 446.5,3443.0" fill="none" stroke="#55585a" stroke-width="0.9"/>
<path d="M407.6,3446.6 Q415.6,3445.1 425.05,3446.6 M429.05,3446.6 Q438.5,3445.1 446.5,3446.6" fill="none" stroke="#55585a" stroke-width="0.9"/>
<path d="M407.6,3450.2 Q415.6,3448.7 425.05,3450.2 M429.05,3450.2 Q438.5,3448.7 446.5,3450.2" fill="none" stroke="#55585a" stroke-width="0.9"/>
<path d="M0,3519.3 L0,3500 L0,3498.80 L1,3498.17 L2,3497.65 L3,3497.24 L4,3496.94 L5,3496.76 L6,3496.70 L7,3496.76 L8,3496.94 L9,3497.24 L10,3497.65 L11,3498.17 L12,3498.80 L13,3499.54 L14,3500.48 L15,3500.07 L16,3499.23 L17,3498.53 L18,3497.94 L19,3497.47 L20,3497.10 L21,3496.85 L22,3496.72 L23,3496.71 L24,3496.82 L25,3497.04 L26,3497.39 L27,3497.84 L28,3498.40 L29,3499.08 L30,3499.88 L31,3500.72 L32,3499.71 L33,3498.93 L34,3498.28 L35,3497.74 L36,3497.31 L37,3496.99 L38,3496.79 L39,3496.70 L40,3496.74 L41,3496.89 L42,3497.17 L43,3497.56 L44,3498.05 L45,3498.66 L46,3499.38 L47,3500.26 L48,3500.26 L49,3499.38 L50,3498.66 L51,3498.05 L52,3497.56 L53,3497.17 L54,3496.89 L55,3496.74 L56,3496.70 L57,3496.79 L58,3496.99 L59,3497.31 L60,3497.74 L61,3498.28 L62,3498.93 L63,3499.71 L64,3500.72 L65,3499.88 L66,3499.08 L67,3498.40 L68,3497.84 L69,3497.39 L70,3497.04 L71,3496.82 L72,3496.71 L73,3496.72 L74,3496.85 L75,3497.10 L76,3497.47 L77,3497.94 L78,3498.53 L79,3499.23 L80,3500.07 L81,3500.48 L82,3499.54 L83,3498.80 L84,3498.17 L85,3497.65 L86,3497.24 L87,3496.94 L88,3496.76 L89,3496.70 L90,3496.76 L91,3496.94 L92,3497.24 L93,3497.65 L94,3498.17 L95,3498.80 L96,3499.54 L97,3500.48 L98,3500.07 L99,3499.23 L100,3498.53 L101,3497.94 L102,3497.47 L103,3497.10 L104,3496.85 L105,3496.72 L106,3496.71 L107,3496.82 L108,3497.04 L109,3497.39 L110,3497.84 L111,3498.40 L112,3499.08 L113,3499.88 L114,3500.72 L115,3499.71 L116,3498.93 L117,3498.28 L118,3497.74 L119,3497.31 L120,3496.99 L121,3496.79 L122,3496.70 L123,3496.74 L124,3496.89 L125,3497.17 L126,3497.56 L127,3498.05 L128,3498.66 L129,3499.38 L130,3500.26 L131,3500.26 L132,3499.38 L133,3498.66 L134,3498.05 L135,3497.56 L136,3497.17 L137,3496.89 L138,3496.74 L139,3496.70 L140,3496.79 L141,3496.99 L142,3497.31 L143,3497.74 L144,3498.28 L145,3498.93 L146,3499.71 L147,3500.72 L148,3499.88 L149,3499.08 L150,3498.40 L151,3497.84 L152,3497.39 L153,3497.04 L154,3496.82 L155,3496.71 L156,3496.72 L157,3496.85 L158,3497.10 L159,3497.47 L160,3497.94 L161,3498.53 L162,3499.23 L163,3500.07 L164,3500.48 L165,3499.54 L166,3498.80 L167,3498.17 L168,3497.65 L169,3497.24 L170,3496.94 L171,3496.76 L172,3496.70 L173,3496.76 L174,3496.94 L175,3497.24 L176,3497.65 L177,3498.17 L178,3498.80 L179,3499.54 L180,3500.48 L181,3500.07 L182,3499.23 L183,3498.53 L184,3497.94 L185,3497.47 L186,3497.10 L187,3496.85 L188,3496.72 L189,3496.71 L190,3496.82 L191,3497.04 L192,3497.39 L193,3497.84 L194,3498.40 L195,3499.08 L196,3499.88 L197,3500.72 L198,3499.71 L199,3498.93 L200,3498.28 L201,3497.74 L202,3497.31 L203,3496.99 L204,3496.79 L205,3496.70 L206,3496.74 L207,3496.89 L208,3497.17 L209,3497.56 L210,3498.05 L211,3498.66 L212,3499.38 L213,3500.26 L214,3500.26 L215,3499.38 L216,3498.66 L217,3498.05 L218,3497.56 L219,3497.17 L220,3496.89 L221,3496.74 L222,3496.70 L223,3496.79 L224,3496.99 L225,3497.31 L226,3497.74 L227,3498.28 L228,3498.93 L229,3499.71 L230,3500.72 L231,3499.88 L232,3499.08 L233,3498.40 L234,3497.84 L235,3497.39 L236,3497.04 L237,3496.82 L238,3496.71 L239,3496.72 L240,3496.85 L241,3497.10 L242,3497.47 L243,3497.94 L244,3498.53 L245,3499.23 L246,3500.07 L247,3500.48 L248,3499.54 L249,3498.80 L250,3498.17 L251,3497.65 L252,3497.24 L253,3496.94 L254,3496.76 L255,3496.70 L256,3496.76 L257,3496.94 L258,3497.24 L259,3497.65 L260,3498.17 L261,3498.80 L262,3499.54 L263,3500.48 L264,3500.07 L265,3499.23 L266,3498.53 L267,3497.94 L268,3497.47 L269,3497.10 L270,3496.85 L271,3496.72 L272,3496.71 L273,3496.82 L274,3497.04 L275,3497.39 L276,3497.84 L277,3498.40 L278,3499.08 L279,3499.88 L280,3500.72 L281,3499.71 L282,3498.93 L283,3498.28 L284,3497.74 L285,3497.31 L286,3496.99 L287,3496.79 L288,3496.70 L289,3496.74 L290,3496.89 L291,3497.17 L292,3497.56 L293,3498.05 L294,3498.66 L295,3499.38 L296,3500.26 L297,3500.26 L298,3499.38 L299,3498.66 L300,3498.05 L301,3497.56 L302,3497.17 L303,3496.89 L304,3496.74 L305,3496.70 L306,3496.79 L307,3496.99 L308,3497.31 L309,3497.74 L310,3498.28 L311,3498.93 L312,3499.71 L313,3500.72 L314,3499.88 L315,3499.08 L316,3498.40 L317,3497.84 L318,3497.39 L319,3497.04 L320,3496.82 L321,3496.71 L322,3496.72 L323,3496.85 L324,3497.10 L325,3497.47 L326,3497.94 L327,3498.53 L328,3499.23 L329,3500.07 L330,3500.48 L331,3499.54 L332,3498.80 L333,3498.17 L334,3497.65 L335,3497.24 L336,3496.94 L337,3496.76 L338,3496.70 L339,3496.76 L340,3496.94 L341,3497.24 L342,3497.65 L343,3498.17 L344,3498.80 L345,3499.54 L346,3500.48 L347,3500.07 L348,3499.23 L349,3498.53 L350,3497.94 L351,3497.47 L352,3497.10 L353,3496.85 L354,3496.72 L355,3496.71 L356,3496.82 L357,3497.04 L358,3497.39 L359,3497.84 L360,3498.40 L361,3499.08 L362,3499.88 L363,3500.72 L364,3499.71 L365,3498.93 L366,3498.28 L367,3497.74 L368,3497.31 L369,3496.99 L370,3496.79 L371,3496.70 L372,3496.74 L373,3496.89 L374,3497.17 L375,3497.56 L376,3498.05 L377,3498.66 L378,3499.38 L379,3500.26 L380,3500.26 L381,3499.38 L382,3498.66 L383,3498.05 L384,3497.56 L385,3497.17 L386,3496.89 L387,3496.74 L388,3496.70 L389,3496.79 L390,3496.99 L391,3497.31 L392,3497.74 L393,3498.28 L394,3498.93 L395,3499.71 L396,3500.72 L397,3499.88 L398,3499.08 L399,3498.40 L400,3497.84 L401,3497.39 L402,3497.04 L403,3496.82 L404,3496.71 L405,3496.72 L406,3496.85 L407,3497.10 L408,3497.47 L409,3497.94 L410,3498.53 L411,3499.23 L412,3500.07 L413,3500.48 L414,3499.54 L415,3498.80 L416,3498.17 L417,3497.65 L418,3497.24 L419,3496.94 L420,3496.76 L421,3496.70 L422,3496.76 L423,3496.94 L424,3497.24 L425,3497.65 L426,3498.17 L427,3498.80 L428,3499.54 L429,3500.48 L430,3500.07 L431,3499.23 L432,3498.53 L433,3497.94 L434,3497.47 L435,3497.10 L436,3496.85 L437,3496.72 L438,3496.71 L439,3496.82 L440,3497.04 L441,3497.39 L442,3497.84 L443,3498.40 L444,3499.08 L445,3499.88 L446,3500.72 L447,3499.71 L448,3498.93 L449,3498.28 L450,3497.74 L451,3497.31 L452,3496.99 L453,3496.79 L454,3496.70 L455,3496.74 L456,3496.89 L457,3497.17 L458,3497.56 L459,3498.05 L460,3498.66 L461,3499.38 L462,3500.26 L463,3500.26 L464,3499.38 L465,3498.66 L466,3498.05 L467,3497.56 L468,3497.17 L469,3496.89 L470,3496.74 L471,3496.70 L472,3496.79 L473,3496.99 L474,3497.31 L475,3497.74 L476,3498.28 L477,3498.93 L478,3499.71 L479,3500.72 L480,3499.88 L481,3499.08 L482,3498.40 L483,3497.84 L484,3497.39 L485,3497.04 L486,3496.82 L487,3496.71 L488,3496.72 L489,3496.85 L490,3497.10 L491,3497.47 L492,3497.94 L493,3498.53 L494,3499.23 L495,3500.07 L496,3500.48 L497,3499.54 L498,3498.80 L499,3498.17 L500,3497.65 L501,3497.24 L502,3496.94 L503,3496.76 L504,3496.70 L505,3496.76 L506,3496.94 L507,3497.24 L508,3497.65 L509,3498.17 L510,3498.80 L511,3499.54 L512,3500.48 L513,3500.07 L514,3499.23 L515,3498.53 L516,3497.94 L517,3497.47 L518,3497.10 L519,3496.85 L520,3496.72 L521,3496.71 L522,3496.82 L523,3497.04 L524,3497.39 L525,3497.84 L526,3498.40 L527,3499.08 L528,3499.88 L529,3500.72 L530,3499.71 L531,3498.93 L532,3498.28 L533,3497.74 L534,3497.31 L535,3496.99 L536,3496.79 L537,3496.70 L538,3496.74 L539,3496.89 L540,3497.17 L541,3497.56 L542,3498.05 L543,3498.66 L544,3499.38 L545,3500.26 L546,3500.26 L547,3499.38 L548,3498.66 L549,3498.05 L550,3497.56 L551,3497.17 L552,3496.89 L553,3496.74 L554,3496.70 L555,3496.79 L556,3496.99 L557,3497.31 L558,3497.74 L559,3498.28 L560,3498.93 L561,3499.71 L562,3500.72 L563,3499.88 L564,3499.08 L565,3498.40 L566,3497.84 L567,3497.39 L568,3497.04 L569,3496.82 L570,3496.71 L571,3496.72 L572,3496.85 L573,3497.10 L574,3497.47 L575,3497.94 L576,3498.53 L577,3499.23 L578,3500.07 L579,3500.48 L580,3499.54 L581,3498.80 L582,3498.17 L583,3497.65 L584,3497.24 L585,3496.94 L586,3496.76 L587,3496.70 L588,3496.76 L589,3496.94 L590,3497.24 L591,3497.65 L592,3498.17 L593,3498.80 L594,3499.54 L595,3500.48 L596,3500.07 L597,3499.23 L598,3498.53 L599,3497.94 L600,3497.47 L601,3497.10 L602,3496.85 L603,3496.72 L604,3496.71 L605,3496.82 L606,3497.04 L607,3497.39 L608,3497.84 L609,3498.40 L610,3499.08 L611,3499.88 L612,3500.72 L613,3499.71 L614,3498.93 L615,3498.28 L616,3497.74 L617,3497.31 L618,3496.99 L619,3496.79 L620,3496.70 L621,3496.74 L622,3496.89 L623,3497.17 L624,3497.56 L625,3498.05 L626,3498.66 L627,3499.38 L628,3500.26 L629,3500.26 L630,3499.38 L631,3498.66 L632,3498.05 L633,3497.56 L634,3497.17 L635,3496.89 L636,3496.74 L637,3496.70 L638,3496.79 L639,3496.99 L640,3497.31 L641,3497.74 L642,3498.28 L643,3498.93 L644,3499.71 L645,3500.72 L646,3499.88 L647,3499.08 L648,3498.40 L649,3497.84 L650,3497.39 L651,3497.04 L652,3496.82 L653,3496.71 L654,3496.72 L655,3496.85 L656,3497.10 L657,3497.47 L658,3497.94 L659,3498.53 L660,3499.23 L661,3500.07 L662,3500.48 L663,3499.54 L664,3498.80 L665,3498.17 L666,3497.65 L667,3497.24 L668,3496.94 L669,3496.76 L670,3496.70 L671,3496.76 L672,3496.94 L673,3497.24 L674,3497.65 L675,3498.17 L676,3498.80 L677,3499.54 L678,3500.48 L679,3500.07 L680,3499.23 L681,3498.53 L682,3497.94 L683,3497.47 L684,3497.10 L685,3496.85 L686,3496.72 L687,3496.71 L688,3496.82 L689,3497.04 L690,3497.39 L691,3497.84 L692,3498.40 L693,3499.08 L694,3499.88 L695,3500.72 L696,3499.71 L697,3498.93 L698,3498.28 L699,3497.74 L700,3497.31 L701,3496.99 L702,3496.79 L703,3496.70 L704,3496.74 L705,3496.89 L706,3497.17 L707,3497.56 L708,3498.05 L709,3498.66 L710,3499.38 L711,3500.26 L712,3500.26 L713,3499.38 L714,3498.66 L715,3498.05 L716,3497.56 L717,3497.17 L718,3496.89 L719,3496.74 L720,3496.70 L721,3496.79 L722,3496.99 L723,3497.31 L724,3497.74 L725,3498.28 L726,3498.93 L727,3499.71 L728,3500.72 L729,3499.88 L730,3499.08 L731,3498.40 L732,3497.84 L733,3497.39 L734,3497.04 L735,3496.82 L736,3496.71 L737,3496.72 L738,3496.85 L739,3497.10 L740,3497.47 L741,3497.94 L742,3498.53 L743,3499.23 L744,3500.07 L745,3500.48 L746,3499.54 L747,3498.80 L748,3498.17 L749,3497.65 L750,3497.24 L751,3496.94 L752,3496.76 L753,3496.70 L754,3496.76 L755,3496.94 L756,3497.24 L757,3497.65 L758,3498.17 L759,3498.80 L760,3499.54 L760,3519.3 Z" fill="#265f72"/>
<text x="30.48" y="3541.70" font-size="12.4" fill="#4b4c4c" textLength="60.60" lengthAdjust="spacingAndGlyphs"  >SOURCES:</text>
<text x="29.97" y="3554.40" font-size="12.4" fill="#4b4c4c" textLength="399.18" lengthAdjust="spacingAndGlyphs"  >Pew Internet &amp; American Life Project "Just-in-time Information through</text>
<text x="30.00" y="3567.30" font-size="12.4" fill="#4b4c4c" textLength="432.75" lengthAdjust="spacingAndGlyphs"  >Mobile Connections," May 2012 | University of Colorado Boulder, Digital News</text>
<text x="30.75" y="3580.50" font-size="12.4" fill="#4b4c4c" textLength="409.20" lengthAdjust="spacingAndGlyphs"  >Test Kitchen "Smartphone User Survey: A glimpse into the mobile lives of</text>
<text x="30.50" y="3593.70" font-size="12.4" fill="#4b4c4c" textLength="426.79" lengthAdjust="spacingAndGlyphs"  >college students," February 2012 | Nielsen "America’s New Mobile Majority: a</text>
<text x="30.01" y="3607.00" font-size="12.4" fill="#4b4c4c" textLength="284.65" lengthAdjust="spacingAndGlyphs"  >Look at Smartphone Owners in the U.S.," May 2012</text>
<path d="M482.6,3559.5 L482.6,3583.2 Q494,3582.8 503.9,3587.2 Q514,3582.8 524.6,3583.2 L524.6,3559.5 Z" fill="#7fb53d"/>
<path d="M488.3,3549.8 L503.9,3563.3 L519.6,3549.8 L519.6,3573.3 Q511,3573.8 503.9,3578.2 Q497,3573.8 488.3,3573.3 Z" fill="#7fb53d" stroke="#d3e8ad" stroke-width="1.6"/>
<g fill="#dce2d3"><circle cx="500.7" cy="3566.4" r="3.2"/><circle cx="507.3" cy="3566.4" r="3.2"/><rect x="497.5" y="3566.4" width="13" height="10.8"/></g>
<rect x="503.2" y="3563" width="1.6" height="5" fill="#7fb53d"/>
<text x="532.25" y="3583.70" font-size="33" fill="#58595b" font-weight="bold" textLength="89.29" lengthAdjust="spacingAndGlyphs"  >Online</text>
<text x="620.94" y="3583.70" font-size="33" fill="#58595b" textLength="121.39" lengthAdjust="spacingAndGlyphs"  stroke="#58595b" stroke-width="0.7">Colleges</text>
</svg>
</body></html>
